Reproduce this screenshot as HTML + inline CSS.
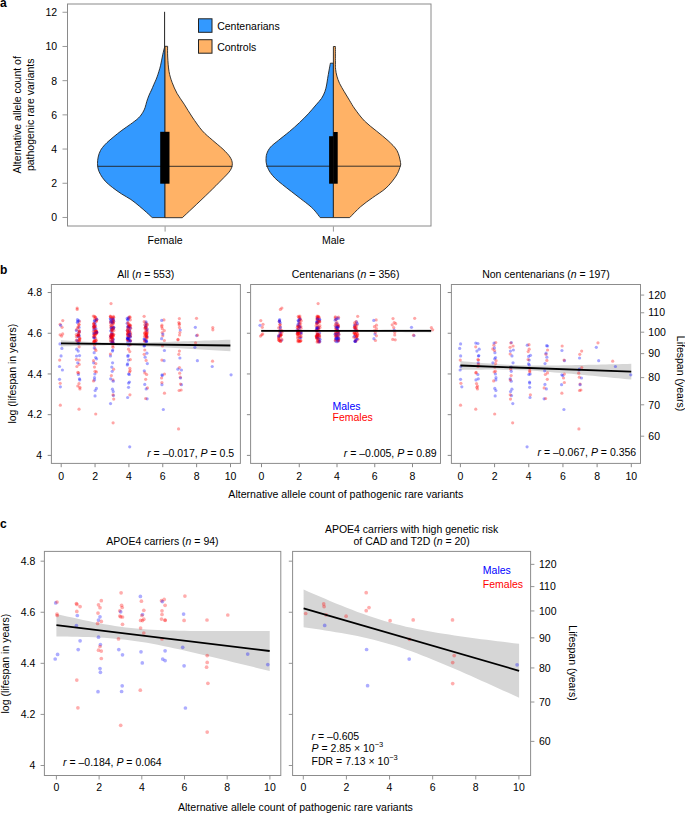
<!DOCTYPE html>
<html><head><meta charset="utf-8"><title>Figure</title>
<style>html,body{margin:0;padding:0;background:#fff;width:685px;height:813px;overflow:hidden}svg{display:block}text{font-family:"Liberation Sans", sans-serif}</style>
</head><body><svg width="685" height="813" viewBox="0 0 685 813" font-family='"Liberation Sans", sans-serif'><text x="0" y="6.9" font-size="12" font-weight="bold" >a</text>
<line x1="62.5" y1="217.46" x2="67.5" y2="217.46" stroke="#999999" stroke-width="1" />
<text x="57.1" y="221.46" font-size="10.5" text-anchor="end" >0</text>
<line x1="62.5" y1="183.26" x2="67.5" y2="183.26" stroke="#999999" stroke-width="1" />
<text x="57.1" y="187.26" font-size="10.5" text-anchor="end" >2</text>
<line x1="62.5" y1="149.06" x2="67.5" y2="149.06" stroke="#999999" stroke-width="1" />
<text x="57.1" y="153.06" font-size="10.5" text-anchor="end" >4</text>
<line x1="62.5" y1="114.86" x2="67.5" y2="114.86" stroke="#999999" stroke-width="1" />
<text x="57.1" y="118.86" font-size="10.5" text-anchor="end" >6</text>
<line x1="62.5" y1="80.66" x2="67.5" y2="80.66" stroke="#999999" stroke-width="1" />
<text x="57.1" y="84.66" font-size="10.5" text-anchor="end" >8</text>
<line x1="62.5" y1="46.46" x2="67.5" y2="46.46" stroke="#999999" stroke-width="1" />
<text x="57.1" y="50.46" font-size="10.5" text-anchor="end" >10</text>
<line x1="62.5" y1="12.26" x2="67.5" y2="12.26" stroke="#999999" stroke-width="1" />
<text x="57.1" y="16.26" font-size="10.5" text-anchor="end" >12</text>
<text x="21.1" y="114.8" font-size="10.5" text-anchor="middle" transform="rotate(-90 21.1 114.8)" >Alternative allele count of</text>
<text x="34.4" y="114.8" font-size="10.5" text-anchor="middle" transform="rotate(-90 34.4 114.8)" >pathogenic rare variants</text>
<line x1="165.1" y1="226.4" x2="165.1" y2="231.6" stroke="#999999" stroke-width="1" />
<text x="165.1" y="243.8" font-size="10.5" text-anchor="middle" >Female</text>
<line x1="333.4" y1="226.4" x2="333.4" y2="231.6" stroke="#999999" stroke-width="1" />
<text x="333.4" y="243.8" font-size="10.5" text-anchor="middle" >Male</text>
<line x1="164.6" y1="11.8" x2="164.6" y2="47" stroke="#222" stroke-width="1.0" />
<path d="M165,46.6 L164.7,46.6 C164.37,47.97 163.4,51.6 162.7,54.8 C162,58 161.43,62.12 160.5,65.8 C159.57,69.48 158.22,73.77 157.1,76.9 C155.98,80.03 154.73,82.42 153.8,84.6 C152.87,86.78 152.3,88.22 151.5,90 C150.7,91.78 149.78,93.4 149,95.3 C148.22,97.2 147.45,99.37 146.8,101.4 C146.15,103.43 145.75,105.68 145.1,107.5 C144.45,109.32 144,110.55 142.9,112.3 C141.8,114.05 140.55,116.02 138.5,118 C136.45,119.98 133.37,122.15 130.6,124.2 C127.83,126.25 124.82,128.12 121.9,130.3 C118.98,132.48 115.87,134.97 113.1,137.3 C110.33,139.63 107.4,142.1 105.3,144.3 C103.2,146.5 101.68,148.38 100.5,150.5 C99.32,152.62 98.7,154.83 98.2,157 C97.7,159.17 97.5,161.5 97.5,163.5 C97.5,165.5 97.7,167.17 98.2,169 C98.7,170.83 99.35,172.5 100.5,174.5 C101.65,176.5 103.1,178.83 105.1,181 C107.1,183.17 109.73,185.33 112.5,187.5 C115.27,189.67 118.63,192 121.7,194 C124.77,196 127.98,197.5 130.9,199.5 C133.82,201.5 136.58,203.85 139.2,206 C141.82,208.15 144.43,210.47 146.6,212.4 C148.77,214.33 151.27,216.73 152.2,217.6 L165,217.6 Z" fill="#3399ff" stroke="#222" stroke-width="0.9" stroke-linejoin="round"/>
<path d="M165,46.3 L167.6,46.3 C167.62,48.08 167.47,52.82 167.7,57 C167.93,61.18 168.27,67.17 169,71.4 C169.73,75.63 170.75,78.72 172.1,82.4 C173.45,86.08 175.08,89.87 177.1,93.5 C179.12,97.13 181.68,100.28 184.2,104.2 C186.72,108.12 189.18,112.57 192.2,117 C195.22,121.43 198.95,126.97 202.3,130.8 C205.65,134.63 208.85,136.93 212.3,140 C215.75,143.07 220.05,146.37 223,149.2 C225.95,152.03 228.45,154.57 230,157 C231.55,159.43 232.3,161.5 232.3,163.8 C232.3,166.1 231.8,168.1 230,170.8 C228.2,173.5 224.97,176.42 221.5,180 C218.03,183.58 213.95,187.68 209.2,192.3 C204.45,196.92 197.48,203.47 193,207.7 C188.52,211.93 184.08,216.03 182.3,217.7 L165,217.7 Z" fill="#ffb266" stroke="#222" stroke-width="0.9" stroke-linejoin="round"/>
<path d="M333.4,63.2 L330.4,63.2 C330.18,64.35 329.57,67.52 329.1,70.1 C328.63,72.68 328.02,76.22 327.6,78.7 C327.18,81.18 327.05,82.85 326.6,85 C326.15,87.15 325.73,89.38 324.9,91.6 C324.07,93.82 323.08,96.08 321.6,98.3 C320.12,100.52 318.22,102.32 316,104.9 C313.78,107.48 311.07,110.83 308.3,113.8 C305.53,116.77 302.53,119.75 299.4,122.7 C296.27,125.65 293,128.55 289.5,131.5 C286,134.45 281.55,137.82 278.4,140.4 C275.25,142.98 272.53,144.78 270.6,147 C268.67,149.22 267.57,151.53 266.8,153.7 C266.03,155.87 266.05,158.28 266,160 C265.95,161.72 266.23,162.75 266.5,164 C266.77,165.25 267,166.12 267.6,167.5 C268.2,168.88 268.83,170.48 270.1,172.3 C271.37,174.12 273.15,176.37 275.2,178.4 C277.25,180.43 279.67,182.28 282.4,184.5 C285.13,186.72 288.53,189.32 291.6,191.7 C294.67,194.08 297.73,196.42 300.8,198.8 C303.87,201.18 307.62,203.95 310,206 C312.38,208.05 313.4,209.17 315.1,211.1 C316.8,213.03 319.35,216.52 320.2,217.6 L333.4,217.6 Z" fill="#3399ff" stroke="#222" stroke-width="0.9" stroke-linejoin="round"/>
<path d="M333.4,46.5 L335.4,46.5 C335.4,49.08 335.37,58.2 335.4,62 C335.43,65.8 335.35,66.95 335.6,69.3 C335.85,71.65 336.25,73.77 336.9,76.1 C337.55,78.43 338.28,80.72 339.5,83.3 C340.72,85.88 342.55,88.78 344.2,91.6 C345.85,94.42 347.62,97.3 349.4,100.2 C351.18,103.1 352.38,105.53 354.9,109 C357.42,112.47 360.93,117.35 364.5,121 C368.07,124.65 372.37,127.62 376.3,130.9 C380.23,134.18 384.65,137.42 388.1,140.7 C391.55,143.98 394.93,146.98 397,150.6 C399.07,154.22 400.02,159.62 400.5,162.4 C400.98,165.18 400.65,165.02 399.9,167.3 C399.15,169.58 398.3,172.65 396,176.1 C393.7,179.55 390.03,184.38 386.1,188 C382.17,191.62 376.65,194.68 372.4,197.8 C368.15,200.92 364.38,203.4 360.6,206.7 C356.82,210 351.52,215.78 349.7,217.6 L333.4,217.6 Z" fill="#ffb266" stroke="#222" stroke-width="0.9" stroke-linejoin="round"/>
<line x1="97.4" y1="166.3" x2="232.3" y2="166.3" stroke="#222" stroke-width="0.9" />
<line x1="266.1" y1="166.2" x2="400.4" y2="166.2" stroke="#222" stroke-width="0.9" />
<rect x="160.2" y="131.8" width="9.3" height="51.9" fill="#000"/>
<rect x="329.1" y="136.2" width="4.3" height="47.5" fill="#000"/>
<rect x="333.4" y="132" width="4.3" height="51.7" fill="#000"/>
<rect x="198.5" y="18.8" width="13.5" height="13.5" fill="#3399ff" stroke="#222" stroke-width="1"/>
<rect x="198.5" y="39.7" width="13.5" height="13.5" fill="#ffb266" stroke="#222" stroke-width="1"/>
<text x="217.2" y="29.7" font-size="10.5" >Centenarians</text>
<text x="217.2" y="50.6" font-size="10.5" >Controls</text>
<rect x="67.5" y="4" width="363.5" height="222" fill="none" stroke="#8a8a8a" stroke-width="1.0"/>
<text x="0" y="274.1" font-size="12" font-weight="bold" >b</text>
<line x1="47.7" y1="455.4" x2="51.4" y2="455.4" stroke="#7a7a7a" stroke-width="0.9" />
<line x1="47.7" y1="414.68" x2="51.4" y2="414.68" stroke="#7a7a7a" stroke-width="0.9" />
<line x1="47.7" y1="373.96" x2="51.4" y2="373.96" stroke="#7a7a7a" stroke-width="0.9" />
<line x1="47.7" y1="333.24" x2="51.4" y2="333.24" stroke="#7a7a7a" stroke-width="0.9" />
<line x1="47.7" y1="292.52" x2="51.4" y2="292.52" stroke="#7a7a7a" stroke-width="0.9" />
<line x1="61.2" y1="463.4" x2="61.2" y2="467.2" stroke="#7a7a7a" stroke-width="0.9" />
<text x="61.2" y="479.8" font-size="10.5" text-anchor="middle" >0</text>
<line x1="95.06" y1="463.4" x2="95.06" y2="467.2" stroke="#7a7a7a" stroke-width="0.9" />
<text x="95.06" y="479.8" font-size="10.5" text-anchor="middle" >2</text>
<line x1="128.92" y1="463.4" x2="128.92" y2="467.2" stroke="#7a7a7a" stroke-width="0.9" />
<text x="128.92" y="479.8" font-size="10.5" text-anchor="middle" >4</text>
<line x1="162.78" y1="463.4" x2="162.78" y2="467.2" stroke="#7a7a7a" stroke-width="0.9" />
<text x="162.78" y="479.8" font-size="10.5" text-anchor="middle" >6</text>
<line x1="196.64" y1="463.4" x2="196.64" y2="467.2" stroke="#7a7a7a" stroke-width="0.9" />
<text x="196.64" y="479.8" font-size="10.5" text-anchor="middle" >8</text>
<line x1="230.5" y1="463.4" x2="230.5" y2="467.2" stroke="#7a7a7a" stroke-width="0.9" />
<text x="230.5" y="479.8" font-size="10.5" text-anchor="middle" >10</text>
<text x="145.8" y="278.4" font-size="10.5" text-anchor="middle" >All (<tspan font-style="italic">n</tspan> = 553)</text>
<line x1="246.9" y1="455.4" x2="250.6" y2="455.4" stroke="#7a7a7a" stroke-width="0.9" />
<line x1="246.9" y1="414.68" x2="250.6" y2="414.68" stroke="#7a7a7a" stroke-width="0.9" />
<line x1="246.9" y1="373.96" x2="250.6" y2="373.96" stroke="#7a7a7a" stroke-width="0.9" />
<line x1="246.9" y1="333.24" x2="250.6" y2="333.24" stroke="#7a7a7a" stroke-width="0.9" />
<line x1="246.9" y1="292.52" x2="250.6" y2="292.52" stroke="#7a7a7a" stroke-width="0.9" />
<line x1="261.5" y1="463.4" x2="261.5" y2="467.2" stroke="#7a7a7a" stroke-width="0.9" />
<text x="261.5" y="479.8" font-size="10.5" text-anchor="middle" >0</text>
<line x1="299.25" y1="463.4" x2="299.25" y2="467.2" stroke="#7a7a7a" stroke-width="0.9" />
<text x="299.25" y="479.8" font-size="10.5" text-anchor="middle" >2</text>
<line x1="337" y1="463.4" x2="337" y2="467.2" stroke="#7a7a7a" stroke-width="0.9" />
<text x="337" y="479.8" font-size="10.5" text-anchor="middle" >4</text>
<line x1="374.75" y1="463.4" x2="374.75" y2="467.2" stroke="#7a7a7a" stroke-width="0.9" />
<text x="374.75" y="479.8" font-size="10.5" text-anchor="middle" >6</text>
<line x1="412.5" y1="463.4" x2="412.5" y2="467.2" stroke="#7a7a7a" stroke-width="0.9" />
<text x="412.5" y="479.8" font-size="10.5" text-anchor="middle" >8</text>
<text x="345.6" y="278.4" font-size="10.5" text-anchor="middle" >Centenarians (<tspan font-style="italic">n</tspan> = 356)</text>
<line x1="447.7" y1="455.4" x2="451.4" y2="455.4" stroke="#7a7a7a" stroke-width="0.9" />
<line x1="447.7" y1="414.68" x2="451.4" y2="414.68" stroke="#7a7a7a" stroke-width="0.9" />
<line x1="447.7" y1="373.96" x2="451.4" y2="373.96" stroke="#7a7a7a" stroke-width="0.9" />
<line x1="447.7" y1="333.24" x2="451.4" y2="333.24" stroke="#7a7a7a" stroke-width="0.9" />
<line x1="447.7" y1="292.52" x2="451.4" y2="292.52" stroke="#7a7a7a" stroke-width="0.9" />
<line x1="460.4" y1="463.4" x2="460.4" y2="467.2" stroke="#7a7a7a" stroke-width="0.9" />
<text x="460.4" y="479.8" font-size="10.5" text-anchor="middle" >0</text>
<line x1="494.58" y1="463.4" x2="494.58" y2="467.2" stroke="#7a7a7a" stroke-width="0.9" />
<text x="494.58" y="479.8" font-size="10.5" text-anchor="middle" >2</text>
<line x1="528.76" y1="463.4" x2="528.76" y2="467.2" stroke="#7a7a7a" stroke-width="0.9" />
<text x="528.76" y="479.8" font-size="10.5" text-anchor="middle" >4</text>
<line x1="562.94" y1="463.4" x2="562.94" y2="467.2" stroke="#7a7a7a" stroke-width="0.9" />
<text x="562.94" y="479.8" font-size="10.5" text-anchor="middle" >6</text>
<line x1="597.12" y1="463.4" x2="597.12" y2="467.2" stroke="#7a7a7a" stroke-width="0.9" />
<text x="597.12" y="479.8" font-size="10.5" text-anchor="middle" >8</text>
<line x1="631.3" y1="463.4" x2="631.3" y2="467.2" stroke="#7a7a7a" stroke-width="0.9" />
<text x="631.3" y="479.8" font-size="10.5" text-anchor="middle" >10</text>
<text x="545.9" y="278.4" font-size="10.5" text-anchor="middle" >Non centenarians (<tspan font-style="italic">n</tspan> = 197)</text>
<text x="42.1" y="459.2" font-size="10.5" text-anchor="end" >4</text>
<text x="42.1" y="418.48" font-size="10.5" text-anchor="end" >4.2</text>
<text x="42.1" y="377.76" font-size="10.5" text-anchor="end" >4.4</text>
<text x="42.1" y="337.04" font-size="10.5" text-anchor="end" >4.6</text>
<text x="42.1" y="296.32" font-size="10.5" text-anchor="end" >4.8</text>
<text x="16" y="373.7" font-size="10.5" text-anchor="middle" transform="rotate(-90 16 373.7)" >log (lifespan in years)</text>
<text x="345.8" y="498.3" font-size="10.6" text-anchor="middle" >Alternative allele count of pathogenic rare variants</text>
<line x1="640.4" y1="436.19" x2="644.2" y2="436.19" stroke="#7a7a7a" stroke-width="0.8" />
<text x="648.3" y="439.89" font-size="10.5" >60</text>
<line x1="640.4" y1="404.81" x2="644.2" y2="404.81" stroke="#7a7a7a" stroke-width="0.8" />
<text x="648.3" y="408.51" font-size="10.5" >70</text>
<line x1="640.4" y1="377.62" x2="644.2" y2="377.62" stroke="#7a7a7a" stroke-width="0.8" />
<text x="648.3" y="381.32" font-size="10.5" >80</text>
<line x1="640.4" y1="353.64" x2="644.2" y2="353.64" stroke="#7a7a7a" stroke-width="0.8" />
<text x="648.3" y="357.34" font-size="10.5" >90</text>
<line x1="640.4" y1="332.19" x2="644.2" y2="332.19" stroke="#7a7a7a" stroke-width="0.8" />
<text x="648.3" y="335.89" font-size="10.5" >100</text>
<line x1="640.4" y1="312.78" x2="644.2" y2="312.78" stroke="#7a7a7a" stroke-width="0.8" />
<text x="648.3" y="316.48" font-size="10.5" >110</text>
<line x1="640.4" y1="295.07" x2="644.2" y2="295.07" stroke="#7a7a7a" stroke-width="0.8" />
<text x="648.3" y="298.77" font-size="10.5" >120</text>
<text x="676.5" y="373.5" font-size="10.5" text-anchor="middle" transform="rotate(90 676.5 373.5)" >Lifespan (years)</text>
<path d="M61,340.3 L65.23,340.55 L69.47,340.79 L73.7,341.02 L77.94,341.25 L82.17,341.48 L86.41,341.7 L90.64,341.91 L94.88,342.11 L99.12,342.29 L103.35,342.45 L107.59,342.59 L111.82,342.7 L116.06,342.78 L120.29,342.82 L124.53,342.83 L128.76,342.81 L133,342.76 L137.23,342.7 L141.47,342.61 L145.7,342.51 L149.94,342.4 L154.17,342.28 L158.41,342.16 L162.64,342.03 L166.88,341.9 L171.11,341.76 L175.34,341.62 L179.58,341.48 L183.81,341.33 L188.05,341.19 L192.29,341.04 L196.52,340.89 L200.75,340.74 L204.99,340.59 L209.22,340.44 L213.46,340.29 L217.69,340.13 L221.93,339.98 L226.17,339.83 L230.4,339.67 L230.4,351.33 L226.17,351.07 L221.93,350.81 L217.69,350.55 L213.46,350.29 L209.22,350.04 L204.99,349.78 L200.75,349.52 L196.52,349.27 L192.29,349.02 L188.05,348.76 L183.81,348.51 L179.58,348.26 L175.34,348.02 L171.11,347.77 L166.88,347.53 L162.64,347.29 L158.41,347.06 L154.17,346.83 L149.94,346.6 L145.7,346.39 L141.47,346.18 L137.23,345.99 L133,345.82 L128.76,345.67 L124.53,345.54 L120.29,345.45 L116.06,345.39 L111.82,345.36 L107.59,345.37 L103.35,345.4 L99.12,345.46 L94.88,345.53 L90.64,345.63 L86.41,345.73 L82.17,345.84 L77.94,345.97 L73.7,346.09 L69.47,346.22 L65.23,346.36 L61,346.5 Z" fill="#d6d6d6"/>
<circle cx="112.2" cy="371.3" r="1.6" fill="rgba(0,0,255,0.35)"/>
<circle cx="127.48" cy="335.03" r="1.6" fill="rgba(255,0,0,0.35)"/>
<circle cx="113.1" cy="422.8" r="1.6" fill="rgba(255,0,0,0.35)"/>
<circle cx="130.64" cy="332.87" r="1.6" fill="rgba(255,0,0,0.35)"/>
<circle cx="93.8" cy="326.31" r="1.6" fill="rgba(255,0,0,0.35)"/>
<circle cx="112.45" cy="351.1" r="1.6" fill="rgba(0,0,255,0.35)"/>
<circle cx="77.77" cy="386" r="1.6" fill="rgba(255,0,0,0.35)"/>
<circle cx="96.78" cy="332.22" r="1.6" fill="rgba(0,0,255,0.35)"/>
<circle cx="130.49" cy="340.46" r="1.6" fill="rgba(255,0,0,0.35)"/>
<circle cx="129.37" cy="374.5" r="1.6" fill="rgba(0,0,255,0.35)"/>
<circle cx="212.21" cy="366.5" r="1.6" fill="rgba(0,0,255,0.35)"/>
<circle cx="95.22" cy="348.9" r="1.6" fill="rgba(255,0,0,0.35)"/>
<circle cx="195.58" cy="342.8" r="1.6" fill="rgba(255,0,0,0.35)"/>
<circle cx="96.06" cy="340.39" r="1.6" fill="rgba(255,0,0,0.35)"/>
<circle cx="60.33" cy="405.2" r="1.6" fill="rgba(255,0,0,0.35)"/>
<circle cx="112.37" cy="332.7" r="1.6" fill="rgba(255,0,0,0.35)"/>
<circle cx="129.78" cy="351.6" r="1.6" fill="rgba(255,0,0,0.35)"/>
<circle cx="113.44" cy="316.44" r="1.6" fill="rgba(255,0,0,0.35)"/>
<circle cx="96.4" cy="371.9" r="1.6" fill="rgba(255,0,0,0.35)"/>
<circle cx="130.2" cy="370.8" r="1.6" fill="rgba(255,0,0,0.35)"/>
<circle cx="79.13" cy="327.46" r="1.6" fill="rgba(0,0,255,0.35)"/>
<circle cx="78.23" cy="333.68" r="1.6" fill="rgba(0,0,255,0.35)"/>
<circle cx="162.24" cy="375.6" r="1.6" fill="rgba(0,0,255,0.35)"/>
<circle cx="129.67" cy="324.87" r="1.6" fill="rgba(255,0,0,0.35)"/>
<circle cx="128.71" cy="345.2" r="1.6" fill="rgba(0,0,255,0.35)"/>
<circle cx="147.15" cy="398.8" r="1.6" fill="rgba(0,0,255,0.35)"/>
<circle cx="127.89" cy="356.4" r="1.6" fill="rgba(0,0,255,0.35)"/>
<circle cx="130.4" cy="340.98" r="1.6" fill="rgba(255,0,0,0.35)"/>
<circle cx="130.36" cy="319.83" r="1.6" fill="rgba(255,0,0,0.35)"/>
<circle cx="111.59" cy="332.97" r="1.6" fill="rgba(0,0,255,0.35)"/>
<circle cx="94.02" cy="323.55" r="1.6" fill="rgba(255,0,0,0.35)"/>
<circle cx="113.03" cy="323.13" r="1.6" fill="rgba(255,0,0,0.35)"/>
<circle cx="93.36" cy="331.46" r="1.6" fill="rgba(255,0,0,0.35)"/>
<circle cx="180.29" cy="330" r="1.6" fill="rgba(0,0,255,0.35)"/>
<circle cx="76.39" cy="336.63" r="1.6" fill="rgba(255,0,0,0.35)"/>
<circle cx="96.16" cy="320.85" r="1.6" fill="rgba(255,0,0,0.35)"/>
<circle cx="147.34" cy="363.6" r="1.6" fill="rgba(0,0,255,0.35)"/>
<circle cx="146.48" cy="337.18" r="1.6" fill="rgba(255,0,0,0.35)"/>
<circle cx="162.24" cy="332.5" r="1.6" fill="rgba(255,0,0,0.35)"/>
<circle cx="127.94" cy="319.32" r="1.6" fill="rgba(0,0,255,0.35)"/>
<circle cx="94.61" cy="345.2" r="1.6" fill="rgba(255,0,0,0.35)"/>
<circle cx="96.53" cy="319.46" r="1.6" fill="rgba(0,0,255,0.35)"/>
<circle cx="128.47" cy="336.44" r="1.6" fill="rgba(255,0,0,0.35)"/>
<circle cx="95.63" cy="326.75" r="1.6" fill="rgba(255,0,0,0.35)"/>
<circle cx="79.43" cy="378.8" r="1.6" fill="rgba(0,0,255,0.35)"/>
<circle cx="178.02" cy="339.4" r="1.6" fill="rgba(255,0,0,0.35)"/>
<circle cx="144.12" cy="316.3" r="1.6" fill="rgba(255,0,0,0.35)"/>
<circle cx="78.88" cy="332.81" r="1.6" fill="rgba(255,0,0,0.35)"/>
<circle cx="77.2" cy="309.4" r="1.6" fill="rgba(255,0,0,0.35)"/>
<circle cx="94.54" cy="316.32" r="1.6" fill="rgba(255,0,0,0.35)"/>
<circle cx="111.36" cy="337.67" r="1.6" fill="rgba(255,0,0,0.35)"/>
<circle cx="179.44" cy="367.6" r="1.6" fill="rgba(255,0,0,0.35)"/>
<circle cx="94.26" cy="334.25" r="1.6" fill="rgba(255,0,0,0.35)"/>
<circle cx="147.22" cy="333.03" r="1.6" fill="rgba(255,0,0,0.35)"/>
<circle cx="95.05" cy="395.9" r="1.6" fill="rgba(0,0,255,0.35)"/>
<circle cx="113.72" cy="399.1" r="1.6" fill="rgba(255,0,0,0.35)"/>
<circle cx="79.18" cy="360" r="1.6" fill="rgba(255,0,0,0.35)"/>
<circle cx="196.56" cy="335.6" r="1.6" fill="rgba(0,0,255,0.35)"/>
<circle cx="79.69" cy="338.29" r="1.6" fill="rgba(255,0,0,0.35)"/>
<circle cx="112.96" cy="322.27" r="1.6" fill="rgba(255,0,0,0.35)"/>
<circle cx="79.77" cy="339.39" r="1.6" fill="rgba(255,0,0,0.35)"/>
<circle cx="110.68" cy="336.11" r="1.6" fill="rgba(255,0,0,0.35)"/>
<circle cx="111.27" cy="325.64" r="1.6" fill="rgba(255,0,0,0.35)"/>
<circle cx="127.44" cy="337.45" r="1.6" fill="rgba(0,0,255,0.35)"/>
<circle cx="76.34" cy="334.58" r="1.6" fill="rgba(255,0,0,0.35)"/>
<circle cx="96.4" cy="388.4" r="1.6" fill="rgba(0,0,255,0.35)"/>
<circle cx="94.16" cy="352.7" r="1.6" fill="rgba(0,0,255,0.35)"/>
<circle cx="94.41" cy="341.24" r="1.6" fill="rgba(255,0,0,0.35)"/>
<circle cx="112.39" cy="322.36" r="1.6" fill="rgba(0,0,255,0.35)"/>
<circle cx="79.77" cy="379.9" r="1.6" fill="rgba(0,0,255,0.35)"/>
<circle cx="94.02" cy="326.58" r="1.6" fill="rgba(0,0,255,0.35)"/>
<circle cx="110.38" cy="318.58" r="1.6" fill="rgba(0,0,255,0.35)"/>
<circle cx="113.01" cy="347.3" r="1.6" fill="rgba(255,0,0,0.35)"/>
<circle cx="113.25" cy="339.32" r="1.6" fill="rgba(0,0,255,0.35)"/>
<circle cx="62.05" cy="327.3" r="1.6" fill="rgba(255,0,0,0.35)"/>
<circle cx="144.22" cy="354.3" r="1.6" fill="rgba(255,0,0,0.35)"/>
<circle cx="146.84" cy="337.09" r="1.6" fill="rgba(255,0,0,0.35)"/>
<circle cx="145.63" cy="398.5" r="1.6" fill="rgba(255,0,0,0.35)"/>
<circle cx="94.83" cy="322.97" r="1.6" fill="rgba(0,0,255,0.35)"/>
<circle cx="110.69" cy="316.57" r="1.6" fill="rgba(255,0,0,0.35)"/>
<circle cx="62.77" cy="320.6" r="1.6" fill="rgba(255,0,0,0.35)"/>
<circle cx="95.73" cy="414" r="1.6" fill="rgba(255,0,0,0.35)"/>
<circle cx="113.09" cy="317.84" r="1.6" fill="rgba(255,0,0,0.35)"/>
<circle cx="127.67" cy="334.87" r="1.6" fill="rgba(255,0,0,0.35)"/>
<circle cx="130.41" cy="336.99" r="1.6" fill="rgba(0,0,255,0.35)"/>
<circle cx="127.6" cy="341.76" r="1.6" fill="rgba(0,0,255,0.35)"/>
<circle cx="128.21" cy="326.48" r="1.6" fill="rgba(255,0,0,0.35)"/>
<circle cx="128.93" cy="328.18" r="1.6" fill="rgba(0,0,255,0.35)"/>
<circle cx="111.46" cy="337.8" r="1.6" fill="rgba(0,0,255,0.35)"/>
<circle cx="146.75" cy="334.86" r="1.6" fill="rgba(255,0,0,0.35)"/>
<circle cx="94.93" cy="334.09" r="1.6" fill="rgba(255,0,0,0.35)"/>
<circle cx="94.69" cy="333.46" r="1.6" fill="rgba(255,0,0,0.35)"/>
<circle cx="179.4" cy="351.1" r="1.6" fill="rgba(255,0,0,0.35)"/>
<circle cx="112.5" cy="342.07" r="1.6" fill="rgba(255,0,0,0.35)"/>
<circle cx="112.59" cy="334.25" r="1.6" fill="rgba(255,0,0,0.35)"/>
<circle cx="128.55" cy="387.3" r="1.6" fill="rgba(0,0,255,0.35)"/>
<circle cx="179.12" cy="390.5" r="1.6" fill="rgba(255,0,0,0.35)"/>
<circle cx="113.41" cy="395.6" r="1.6" fill="rgba(0,0,255,0.35)"/>
<circle cx="146.16" cy="323.54" r="1.6" fill="rgba(0,0,255,0.35)"/>
<circle cx="144.77" cy="333.66" r="1.6" fill="rgba(255,0,0,0.35)"/>
<circle cx="61.66" cy="336.1" r="1.6" fill="rgba(255,0,0,0.35)"/>
<circle cx="177.97" cy="339.8" r="1.6" fill="rgba(255,0,0,0.35)"/>
<circle cx="144.54" cy="345.7" r="1.6" fill="rgba(0,0,255,0.35)"/>
<circle cx="95.4" cy="334.22" r="1.6" fill="rgba(255,0,0,0.35)"/>
<circle cx="146.12" cy="360.4" r="1.6" fill="rgba(255,0,0,0.35)"/>
<circle cx="61.91" cy="348.4" r="1.6" fill="rgba(0,0,255,0.35)"/>
<circle cx="112.81" cy="325.88" r="1.6" fill="rgba(255,0,0,0.35)"/>
<circle cx="127.29" cy="364.9" r="1.6" fill="rgba(0,0,255,0.35)"/>
<circle cx="181.13" cy="390" r="1.6" fill="rgba(255,0,0,0.35)"/>
<circle cx="144.28" cy="370.8" r="1.6" fill="rgba(0,0,255,0.35)"/>
<circle cx="110.59" cy="330.81" r="1.6" fill="rgba(0,0,255,0.35)"/>
<circle cx="164.43" cy="350.5" r="1.6" fill="rgba(0,0,255,0.35)"/>
<circle cx="113.68" cy="317.24" r="1.6" fill="rgba(255,0,0,0.35)"/>
<circle cx="145.94" cy="322.92" r="1.6" fill="rgba(255,0,0,0.35)"/>
<circle cx="127.13" cy="318.41" r="1.6" fill="rgba(0,0,255,0.35)"/>
<circle cx="144.86" cy="372.9" r="1.6" fill="rgba(255,0,0,0.35)"/>
<circle cx="95.21" cy="335.41" r="1.6" fill="rgba(255,0,0,0.35)"/>
<circle cx="146.33" cy="341.5" r="1.6" fill="rgba(0,0,255,0.35)"/>
<circle cx="95.22" cy="324.7" r="1.6" fill="rgba(0,0,255,0.35)"/>
<circle cx="181.49" cy="384.7" r="1.6" fill="rgba(0,0,255,0.35)"/>
<circle cx="78.24" cy="351.1" r="1.6" fill="rgba(0,0,255,0.35)"/>
<circle cx="130.14" cy="317.17" r="1.6" fill="rgba(255,0,0,0.35)"/>
<circle cx="96.71" cy="333.4" r="1.6" fill="rgba(255,0,0,0.35)"/>
<circle cx="110.47" cy="355.9" r="1.6" fill="rgba(0,0,255,0.35)"/>
<circle cx="164.47" cy="374" r="1.6" fill="rgba(255,0,0,0.35)"/>
<circle cx="79.4" cy="331.67" r="1.6" fill="rgba(0,0,255,0.35)"/>
<circle cx="96.76" cy="319.2" r="1.6" fill="rgba(0,0,255,0.35)"/>
<circle cx="111" cy="303.6" r="1.6" fill="rgba(255,0,0,0.35)"/>
<circle cx="110.45" cy="335.51" r="1.6" fill="rgba(255,0,0,0.35)"/>
<circle cx="197.37" cy="360.7" r="1.6" fill="rgba(0,0,255,0.35)"/>
<circle cx="194.89" cy="347.3" r="1.6" fill="rgba(0,0,255,0.35)"/>
<circle cx="94.23" cy="347.9" r="1.6" fill="rgba(0,0,255,0.35)"/>
<circle cx="113.67" cy="321.21" r="1.6" fill="rgba(0,0,255,0.35)"/>
<circle cx="110.9" cy="327.51" r="1.6" fill="rgba(255,0,0,0.35)"/>
<circle cx="76.5" cy="329.55" r="1.6" fill="rgba(255,0,0,0.35)"/>
<circle cx="96.1" cy="340.45" r="1.6" fill="rgba(255,0,0,0.35)"/>
<circle cx="113.62" cy="327.55" r="1.6" fill="rgba(0,0,255,0.35)"/>
<circle cx="128.08" cy="355.3" r="1.6" fill="rgba(0,0,255,0.35)"/>
<circle cx="111.36" cy="375.6" r="1.6" fill="rgba(255,0,0,0.35)"/>
<circle cx="127.27" cy="339.38" r="1.6" fill="rgba(255,0,0,0.35)"/>
<circle cx="145.68" cy="326.26" r="1.6" fill="rgba(255,0,0,0.35)"/>
<circle cx="94.28" cy="326.89" r="1.6" fill="rgba(0,0,255,0.35)"/>
<circle cx="128.31" cy="340.6" r="1.6" fill="rgba(255,0,0,0.35)"/>
<circle cx="162.46" cy="346" r="1.6" fill="rgba(255,0,0,0.35)"/>
<circle cx="79.91" cy="387.3" r="1.6" fill="rgba(255,0,0,0.35)"/>
<circle cx="112.87" cy="341.09" r="1.6" fill="rgba(255,0,0,0.35)"/>
<circle cx="60.37" cy="386.8" r="1.6" fill="rgba(0,0,255,0.35)"/>
<circle cx="77.85" cy="336" r="1.6" fill="rgba(255,0,0,0.35)"/>
<circle cx="78.27" cy="326.8" r="1.6" fill="rgba(255,0,0,0.35)"/>
<circle cx="111.57" cy="318.82" r="1.6" fill="rgba(255,0,0,0.35)"/>
<circle cx="110.73" cy="341.33" r="1.6" fill="rgba(255,0,0,0.35)"/>
<circle cx="112.93" cy="339.56" r="1.6" fill="rgba(0,0,255,0.35)"/>
<circle cx="130.29" cy="336.3" r="1.6" fill="rgba(255,0,0,0.35)"/>
<circle cx="113.08" cy="343" r="1.6" fill="rgba(255,0,0,0.35)"/>
<circle cx="147.28" cy="329" r="1.6" fill="rgba(0,0,255,0.35)"/>
<circle cx="95.55" cy="338.22" r="1.6" fill="rgba(255,0,0,0.35)"/>
<circle cx="144.91" cy="328.41" r="1.6" fill="rgba(255,0,0,0.35)"/>
<circle cx="162.78" cy="335.8" r="1.6" fill="rgba(255,0,0,0.35)"/>
<circle cx="113.75" cy="327.29" r="1.6" fill="rgba(0,0,255,0.35)"/>
<circle cx="146.55" cy="329.34" r="1.6" fill="rgba(255,0,0,0.35)"/>
<circle cx="112.82" cy="327.49" r="1.6" fill="rgba(255,0,0,0.35)"/>
<circle cx="96.83" cy="319.87" r="1.6" fill="rgba(255,0,0,0.35)"/>
<circle cx="147.02" cy="336.28" r="1.6" fill="rgba(0,0,255,0.35)"/>
<circle cx="112.58" cy="362.8" r="1.6" fill="rgba(0,0,255,0.35)"/>
<circle cx="144.36" cy="340.98" r="1.6" fill="rgba(255,0,0,0.35)"/>
<circle cx="112.42" cy="341.95" r="1.6" fill="rgba(0,0,255,0.35)"/>
<circle cx="59.52" cy="366.5" r="1.6" fill="rgba(0,0,255,0.35)"/>
<circle cx="112.77" cy="346" r="1.6" fill="rgba(255,0,0,0.35)"/>
<circle cx="179.37" cy="318.6" r="1.6" fill="rgba(255,0,0,0.35)"/>
<circle cx="112.2" cy="335.23" r="1.6" fill="rgba(255,0,0,0.35)"/>
<circle cx="78.8" cy="341.16" r="1.6" fill="rgba(255,0,0,0.35)"/>
<circle cx="94.85" cy="331.43" r="1.6" fill="rgba(255,0,0,0.35)"/>
<circle cx="129.52" cy="382" r="1.6" fill="rgba(0,0,255,0.35)"/>
<circle cx="179.55" cy="335" r="1.6" fill="rgba(255,0,0,0.35)"/>
<circle cx="112.27" cy="336.04" r="1.6" fill="rgba(255,0,0,0.35)"/>
<circle cx="111.89" cy="330.74" r="1.6" fill="rgba(255,0,0,0.35)"/>
<circle cx="112.52" cy="338.81" r="1.6" fill="rgba(255,0,0,0.35)"/>
<circle cx="145.74" cy="327.87" r="1.6" fill="rgba(0,0,255,0.35)"/>
<circle cx="94.49" cy="377.7" r="1.6" fill="rgba(0,0,255,0.35)"/>
<circle cx="146.02" cy="321.82" r="1.6" fill="rgba(0,0,255,0.35)"/>
<circle cx="111.56" cy="334.89" r="1.6" fill="rgba(255,0,0,0.35)"/>
<circle cx="163.95" cy="319.9" r="1.6" fill="rgba(255,0,0,0.35)"/>
<circle cx="146.9" cy="353.2" r="1.6" fill="rgba(0,0,255,0.35)"/>
<circle cx="79.46" cy="321.41" r="1.6" fill="rgba(255,0,0,0.35)"/>
<circle cx="111.47" cy="334.34" r="1.6" fill="rgba(255,0,0,0.35)"/>
<circle cx="110.42" cy="354" r="1.6" fill="rgba(255,0,0,0.35)"/>
<circle cx="113.7" cy="334.27" r="1.6" fill="rgba(255,0,0,0.35)"/>
<circle cx="161.94" cy="384.7" r="1.6" fill="rgba(0,0,255,0.35)"/>
<circle cx="95.63" cy="317.52" r="1.6" fill="rgba(255,0,0,0.35)"/>
<circle cx="79.3" cy="330.79" r="1.6" fill="rgba(255,0,0,0.35)"/>
<circle cx="127.38" cy="330.28" r="1.6" fill="rgba(0,0,255,0.35)"/>
<circle cx="129.99" cy="334.15" r="1.6" fill="rgba(0,0,255,0.35)"/>
<circle cx="129.51" cy="330.81" r="1.6" fill="rgba(255,0,0,0.35)"/>
<circle cx="96.59" cy="358.8" r="1.6" fill="rgba(0,0,255,0.35)"/>
<circle cx="146.81" cy="325.2" r="1.6" fill="rgba(255,0,0,0.35)"/>
<circle cx="161.92" cy="382.5" r="1.6" fill="rgba(255,0,0,0.35)"/>
<circle cx="113.22" cy="319.9" r="1.6" fill="rgba(0,0,255,0.35)"/>
<circle cx="147.14" cy="331.18" r="1.6" fill="rgba(255,0,0,0.35)"/>
<circle cx="128.37" cy="339.04" r="1.6" fill="rgba(255,0,0,0.35)"/>
<circle cx="112.31" cy="318.04" r="1.6" fill="rgba(255,0,0,0.35)"/>
<circle cx="146.1" cy="336.48" r="1.6" fill="rgba(255,0,0,0.35)"/>
<circle cx="113.79" cy="330.43" r="1.6" fill="rgba(255,0,0,0.35)"/>
<circle cx="93.5" cy="336.56" r="1.6" fill="rgba(255,0,0,0.35)"/>
<circle cx="79.06" cy="330.74" r="1.6" fill="rgba(255,0,0,0.35)"/>
<circle cx="145.36" cy="327.45" r="1.6" fill="rgba(255,0,0,0.35)"/>
<circle cx="127.86" cy="338.53" r="1.6" fill="rgba(0,0,255,0.35)"/>
<circle cx="127.73" cy="338.49" r="1.6" fill="rgba(0,0,255,0.35)"/>
<circle cx="94.58" cy="379.9" r="1.6" fill="rgba(0,0,255,0.35)"/>
<circle cx="146.48" cy="334.44" r="1.6" fill="rgba(255,0,0,0.35)"/>
<circle cx="93.81" cy="323.47" r="1.6" fill="rgba(255,0,0,0.35)"/>
<circle cx="180.29" cy="377.2" r="1.6" fill="rgba(255,0,0,0.35)"/>
<circle cx="93.9" cy="334.61" r="1.6" fill="rgba(255,0,0,0.35)"/>
<circle cx="147.46" cy="387.9" r="1.6" fill="rgba(255,0,0,0.35)"/>
<circle cx="96.34" cy="330.78" r="1.6" fill="rgba(255,0,0,0.35)"/>
<circle cx="163.33" cy="409.5" r="1.6" fill="rgba(0,0,255,0.35)"/>
<circle cx="113.47" cy="336.01" r="1.6" fill="rgba(255,0,0,0.35)"/>
<circle cx="128.28" cy="333.69" r="1.6" fill="rgba(0,0,255,0.35)"/>
<circle cx="94.56" cy="337.79" r="1.6" fill="rgba(0,0,255,0.35)"/>
<circle cx="113.3" cy="319.8" r="1.6" fill="rgba(255,0,0,0.35)"/>
<circle cx="128.66" cy="340.02" r="1.6" fill="rgba(0,0,255,0.35)"/>
<circle cx="128.6" cy="337.11" r="1.6" fill="rgba(255,0,0,0.35)"/>
<circle cx="112.72" cy="350" r="1.6" fill="rgba(0,0,255,0.35)"/>
<circle cx="77.68" cy="321.41" r="1.6" fill="rgba(0,0,255,0.35)"/>
<circle cx="162.29" cy="328.7" r="1.6" fill="rgba(255,0,0,0.35)"/>
<circle cx="112.58" cy="320.69" r="1.6" fill="rgba(255,0,0,0.35)"/>
<circle cx="112.07" cy="329.63" r="1.6" fill="rgba(0,0,255,0.35)"/>
<circle cx="212.86" cy="329.8" r="1.6" fill="rgba(255,0,0,0.35)"/>
<circle cx="129.5" cy="371.9" r="1.6" fill="rgba(255,0,0,0.35)"/>
<circle cx="77.32" cy="322.53" r="1.6" fill="rgba(0,0,255,0.35)"/>
<circle cx="111.24" cy="337.71" r="1.6" fill="rgba(255,0,0,0.35)"/>
<circle cx="145.66" cy="379.3" r="1.6" fill="rgba(255,0,0,0.35)"/>
<circle cx="93.66" cy="362.8" r="1.6" fill="rgba(0,0,255,0.35)"/>
<circle cx="129.4" cy="316.86" r="1.6" fill="rgba(255,0,0,0.35)"/>
<circle cx="95.89" cy="343" r="1.6" fill="rgba(0,0,255,0.35)"/>
<circle cx="110.82" cy="322.17" r="1.6" fill="rgba(0,0,255,0.35)"/>
<circle cx="128.98" cy="317.95" r="1.6" fill="rgba(255,0,0,0.35)"/>
<circle cx="127.14" cy="323.31" r="1.6" fill="rgba(0,0,255,0.35)"/>
<circle cx="127.59" cy="339.83" r="1.6" fill="rgba(255,0,0,0.35)"/>
<circle cx="95.02" cy="325.81" r="1.6" fill="rgba(255,0,0,0.35)"/>
<circle cx="129.5" cy="330.24" r="1.6" fill="rgba(0,0,255,0.35)"/>
<circle cx="112.43" cy="342.13" r="1.6" fill="rgba(255,0,0,0.35)"/>
<circle cx="78.21" cy="336.63" r="1.6" fill="rgba(0,0,255,0.35)"/>
<circle cx="113.08" cy="394.8" r="1.6" fill="rgba(255,0,0,0.35)"/>
<circle cx="178.82" cy="354.3" r="1.6" fill="rgba(255,0,0,0.35)"/>
<circle cx="179.91" cy="358" r="1.6" fill="rgba(0,0,255,0.35)"/>
<circle cx="177.91" cy="369.2" r="1.6" fill="rgba(0,0,255,0.35)"/>
<circle cx="161.91" cy="360.1" r="1.6" fill="rgba(255,0,0,0.35)"/>
<circle cx="146.18" cy="388.9" r="1.6" fill="rgba(0,0,255,0.35)"/>
<circle cx="111.29" cy="341.61" r="1.6" fill="rgba(0,0,255,0.35)"/>
<circle cx="112.15" cy="322.99" r="1.6" fill="rgba(0,0,255,0.35)"/>
<circle cx="79.63" cy="340.74" r="1.6" fill="rgba(255,0,0,0.35)"/>
<circle cx="178.83" cy="322.6" r="1.6" fill="rgba(255,0,0,0.35)"/>
<circle cx="161.94" cy="325.2" r="1.6" fill="rgba(255,0,0,0.35)"/>
<circle cx="128.7" cy="325.76" r="1.6" fill="rgba(255,0,0,0.35)"/>
<circle cx="112.08" cy="334.39" r="1.6" fill="rgba(0,0,255,0.35)"/>
<circle cx="179.69" cy="373.2" r="1.6" fill="rgba(255,0,0,0.35)"/>
<circle cx="127.44" cy="333.75" r="1.6" fill="rgba(255,0,0,0.35)"/>
<circle cx="127.58" cy="338.55" r="1.6" fill="rgba(0,0,255,0.35)"/>
<circle cx="130.57" cy="328.07" r="1.6" fill="rgba(0,0,255,0.35)"/>
<circle cx="94.31" cy="321.01" r="1.6" fill="rgba(0,0,255,0.35)"/>
<circle cx="113" cy="379.9" r="1.6" fill="rgba(255,0,0,0.35)"/>
<circle cx="164.29" cy="330.6" r="1.6" fill="rgba(255,0,0,0.35)"/>
<circle cx="146.63" cy="330.74" r="1.6" fill="rgba(0,0,255,0.35)"/>
<circle cx="128.47" cy="334.64" r="1.6" fill="rgba(0,0,255,0.35)"/>
<circle cx="110.34" cy="337.65" r="1.6" fill="rgba(255,0,0,0.35)"/>
<circle cx="79.04" cy="409.2" r="1.6" fill="rgba(255,0,0,0.35)"/>
<circle cx="164.47" cy="393.2" r="1.6" fill="rgba(255,0,0,0.35)"/>
<circle cx="111.74" cy="328.03" r="1.6" fill="rgba(0,0,255,0.35)"/>
<circle cx="112.38" cy="329.45" r="1.6" fill="rgba(255,0,0,0.35)"/>
<circle cx="94.18" cy="336.78" r="1.6" fill="rgba(255,0,0,0.35)"/>
<circle cx="94.12" cy="326.38" r="1.6" fill="rgba(255,0,0,0.35)"/>
<circle cx="96.32" cy="321.31" r="1.6" fill="rgba(255,0,0,0.35)"/>
<circle cx="93.73" cy="342.5" r="1.6" fill="rgba(255,0,0,0.35)"/>
<circle cx="78.56" cy="334.75" r="1.6" fill="rgba(255,0,0,0.35)"/>
<circle cx="130.64" cy="328.21" r="1.6" fill="rgba(255,0,0,0.35)"/>
<circle cx="113.26" cy="391.6" r="1.6" fill="rgba(0,0,255,0.35)"/>
<circle cx="146.14" cy="334.18" r="1.6" fill="rgba(255,0,0,0.35)"/>
<circle cx="76.56" cy="356" r="1.6" fill="rgba(0,0,255,0.35)"/>
<circle cx="161.71" cy="326.7" r="1.6" fill="rgba(255,0,0,0.35)"/>
<circle cx="130.22" cy="341.01" r="1.6" fill="rgba(0,0,255,0.35)"/>
<circle cx="59.69" cy="360.1" r="1.6" fill="rgba(255,0,0,0.35)"/>
<circle cx="145.65" cy="330.49" r="1.6" fill="rgba(255,0,0,0.35)"/>
<circle cx="145.47" cy="341.2" r="1.6" fill="rgba(0,0,255,0.35)"/>
<circle cx="94.75" cy="328.16" r="1.6" fill="rgba(255,0,0,0.35)"/>
<circle cx="164.35" cy="340.5" r="1.6" fill="rgba(255,0,0,0.35)"/>
<circle cx="78.64" cy="372.9" r="1.6" fill="rgba(255,0,0,0.35)"/>
<circle cx="113.04" cy="319.03" r="1.6" fill="rgba(0,0,255,0.35)"/>
<circle cx="76.72" cy="349.2" r="1.6" fill="rgba(0,0,255,0.35)"/>
<circle cx="78.36" cy="374.5" r="1.6" fill="rgba(0,0,255,0.35)"/>
<circle cx="79.7" cy="337.89" r="1.6" fill="rgba(255,0,0,0.35)"/>
<circle cx="112.71" cy="338.85" r="1.6" fill="rgba(255,0,0,0.35)"/>
<circle cx="179.48" cy="327.6" r="1.6" fill="rgba(255,0,0,0.35)"/>
<circle cx="79.91" cy="388.9" r="1.6" fill="rgba(255,0,0,0.35)"/>
<circle cx="110.82" cy="336.29" r="1.6" fill="rgba(0,0,255,0.35)"/>
<circle cx="127.35" cy="330.57" r="1.6" fill="rgba(255,0,0,0.35)"/>
<circle cx="77.76" cy="372.4" r="1.6" fill="rgba(255,0,0,0.35)"/>
<circle cx="144.54" cy="332.87" r="1.6" fill="rgba(255,0,0,0.35)"/>
<circle cx="95.97" cy="332.74" r="1.6" fill="rgba(255,0,0,0.35)"/>
<circle cx="76.36" cy="330.6" r="1.6" fill="rgba(0,0,255,0.35)"/>
<circle cx="94.1" cy="328.66" r="1.6" fill="rgba(255,0,0,0.35)"/>
<circle cx="60.12" cy="334.8" r="1.6" fill="rgba(255,0,0,0.35)"/>
<circle cx="112.14" cy="337.48" r="1.6" fill="rgba(255,0,0,0.35)"/>
<circle cx="113.52" cy="321.43" r="1.6" fill="rgba(255,0,0,0.35)"/>
<circle cx="94.32" cy="336.63" r="1.6" fill="rgba(255,0,0,0.35)"/>
<circle cx="111.38" cy="333.98" r="1.6" fill="rgba(255,0,0,0.35)"/>
<circle cx="128.51" cy="349.2" r="1.6" fill="rgba(255,0,0,0.35)"/>
<circle cx="61.06" cy="355.9" r="1.6" fill="rgba(0,0,255,0.35)"/>
<circle cx="93.58" cy="360.7" r="1.6" fill="rgba(255,0,0,0.35)"/>
<circle cx="79.38" cy="335.71" r="1.6" fill="rgba(0,0,255,0.35)"/>
<circle cx="129.18" cy="332.29" r="1.6" fill="rgba(0,0,255,0.35)"/>
<circle cx="76.39" cy="340.13" r="1.6" fill="rgba(255,0,0,0.35)"/>
<circle cx="78.12" cy="335.23" r="1.6" fill="rgba(255,0,0,0.35)"/>
<circle cx="113.24" cy="381.2" r="1.6" fill="rgba(0,0,255,0.35)"/>
<circle cx="60.18" cy="383.3" r="1.6" fill="rgba(255,0,0,0.35)"/>
<circle cx="94.9" cy="320.36" r="1.6" fill="rgba(0,0,255,0.35)"/>
<circle cx="147.02" cy="337.79" r="1.6" fill="rgba(255,0,0,0.35)"/>
<circle cx="161.7" cy="320.4" r="1.6" fill="rgba(0,0,255,0.35)"/>
<circle cx="179.12" cy="324.8" r="1.6" fill="rgba(255,0,0,0.35)"/>
<circle cx="113.3" cy="342.5" r="1.6" fill="rgba(0,0,255,0.35)"/>
<circle cx="179.89" cy="332.5" r="1.6" fill="rgba(255,0,0,0.35)"/>
<circle cx="95.95" cy="328.73" r="1.6" fill="rgba(0,0,255,0.35)"/>
<circle cx="113.23" cy="323.42" r="1.6" fill="rgba(255,0,0,0.35)"/>
<circle cx="195.34" cy="327.3" r="1.6" fill="rgba(0,0,255,0.35)"/>
<circle cx="145.52" cy="327.37" r="1.6" fill="rgba(255,0,0,0.35)"/>
<circle cx="110.37" cy="316.15" r="1.6" fill="rgba(255,0,0,0.35)"/>
<circle cx="112.45" cy="389.2" r="1.6" fill="rgba(0,0,255,0.35)"/>
<circle cx="77.48" cy="341.41" r="1.6" fill="rgba(255,0,0,0.35)"/>
<circle cx="127.8" cy="329.65" r="1.6" fill="rgba(255,0,0,0.35)"/>
<circle cx="181.45" cy="370" r="1.6" fill="rgba(0,0,255,0.35)"/>
<circle cx="93.93" cy="329.61" r="1.6" fill="rgba(0,0,255,0.35)"/>
<circle cx="95.2" cy="317.02" r="1.6" fill="rgba(255,0,0,0.35)"/>
<circle cx="128.99" cy="336.03" r="1.6" fill="rgba(255,0,0,0.35)"/>
<circle cx="110.5" cy="322.95" r="1.6" fill="rgba(255,0,0,0.35)"/>
<circle cx="128.5" cy="383.1" r="1.6" fill="rgba(0,0,255,0.35)"/>
<circle cx="78.72" cy="335.3" r="1.6" fill="rgba(255,0,0,0.35)"/>
<circle cx="162.06" cy="374.8" r="1.6" fill="rgba(0,0,255,0.35)"/>
<circle cx="128.54" cy="374" r="1.6" fill="rgba(0,0,255,0.35)"/>
<circle cx="130.31" cy="359.6" r="1.6" fill="rgba(255,0,0,0.35)"/>
<circle cx="129.57" cy="331.28" r="1.6" fill="rgba(255,0,0,0.35)"/>
<circle cx="145.15" cy="335.02" r="1.6" fill="rgba(255,0,0,0.35)"/>
<circle cx="128.01" cy="322.72" r="1.6" fill="rgba(255,0,0,0.35)"/>
<circle cx="77.7" cy="327.76" r="1.6" fill="rgba(255,0,0,0.35)"/>
<circle cx="94.83" cy="374" r="1.6" fill="rgba(0,0,255,0.35)"/>
<circle cx="78.27" cy="335.04" r="1.6" fill="rgba(255,0,0,0.35)"/>
<circle cx="111.29" cy="327.88" r="1.6" fill="rgba(0,0,255,0.35)"/>
<circle cx="127.59" cy="363.9" r="1.6" fill="rgba(0,0,255,0.35)"/>
<circle cx="144.8" cy="350" r="1.6" fill="rgba(255,0,0,0.35)"/>
<circle cx="146.4" cy="327.15" r="1.6" fill="rgba(255,0,0,0.35)"/>
<circle cx="130.48" cy="334.31" r="1.6" fill="rgba(255,0,0,0.35)"/>
<circle cx="95.62" cy="357.5" r="1.6" fill="rgba(0,0,255,0.35)"/>
<circle cx="146.61" cy="341.51" r="1.6" fill="rgba(0,0,255,0.35)"/>
<circle cx="127.63" cy="397.5" r="1.6" fill="rgba(0,0,255,0.35)"/>
<circle cx="96.61" cy="331.92" r="1.6" fill="rgba(255,0,0,0.35)"/>
<circle cx="128.35" cy="317.9" r="1.6" fill="rgba(0,0,255,0.35)"/>
<circle cx="145.69" cy="339.24" r="1.6" fill="rgba(255,0,0,0.35)"/>
<circle cx="95.8" cy="363.6" r="1.6" fill="rgba(255,0,0,0.35)"/>
<circle cx="129.51" cy="326.81" r="1.6" fill="rgba(0,0,255,0.35)"/>
<circle cx="95.89" cy="331.19" r="1.6" fill="rgba(255,0,0,0.35)"/>
<circle cx="76.36" cy="359.6" r="1.6" fill="rgba(255,0,0,0.35)"/>
<circle cx="93.5" cy="380.9" r="1.6" fill="rgba(255,0,0,0.35)"/>
<circle cx="113.62" cy="369.2" r="1.6" fill="rgba(255,0,0,0.35)"/>
<circle cx="79.29" cy="332.27" r="1.6" fill="rgba(255,0,0,0.35)"/>
<circle cx="59.53" cy="379.3" r="1.6" fill="rgba(0,0,255,0.35)"/>
<circle cx="94.05" cy="326.2" r="1.6" fill="rgba(255,0,0,0.35)"/>
<circle cx="111.77" cy="367.1" r="1.6" fill="rgba(0,0,255,0.35)"/>
<circle cx="77.05" cy="340.26" r="1.6" fill="rgba(0,0,255,0.35)"/>
<circle cx="127.87" cy="326.38" r="1.6" fill="rgba(0,0,255,0.35)"/>
<circle cx="96.76" cy="331.98" r="1.6" fill="rgba(255,0,0,0.35)"/>
<circle cx="95.46" cy="331.2" r="1.6" fill="rgba(255,0,0,0.35)"/>
<circle cx="94.72" cy="318.63" r="1.6" fill="rgba(255,0,0,0.35)"/>
<circle cx="78.95" cy="324.32" r="1.6" fill="rgba(255,0,0,0.35)"/>
<circle cx="93.99" cy="341.68" r="1.6" fill="rgba(255,0,0,0.35)"/>
<circle cx="110.92" cy="325.54" r="1.6" fill="rgba(255,0,0,0.35)"/>
<circle cx="178.56" cy="428.9" r="1.6" fill="rgba(255,0,0,0.35)"/>
<circle cx="130.21" cy="344.7" r="1.6" fill="rgba(255,0,0,0.35)"/>
<circle cx="93.71" cy="337.75" r="1.6" fill="rgba(0,0,255,0.35)"/>
<circle cx="110.68" cy="378.8" r="1.6" fill="rgba(0,0,255,0.35)"/>
<circle cx="113.36" cy="328.45" r="1.6" fill="rgba(0,0,255,0.35)"/>
<circle cx="130.05" cy="335.73" r="1.6" fill="rgba(255,0,0,0.35)"/>
<circle cx="145.84" cy="332.49" r="1.6" fill="rgba(255,0,0,0.35)"/>
<circle cx="144.1" cy="339.02" r="1.6" fill="rgba(0,0,255,0.35)"/>
<circle cx="180.51" cy="378" r="1.6" fill="rgba(0,0,255,0.35)"/>
<circle cx="146.7" cy="333.08" r="1.6" fill="rgba(255,0,0,0.35)"/>
<circle cx="161.57" cy="378" r="1.6" fill="rgba(255,0,0,0.35)"/>
<circle cx="94.05" cy="340.9" r="1.6" fill="rgba(255,0,0,0.35)"/>
<circle cx="129.71" cy="446.8" r="1.6" fill="rgba(0,0,255,0.35)"/>
<circle cx="79.03" cy="383.6" r="1.6" fill="rgba(255,0,0,0.35)"/>
<circle cx="130.01" cy="336.23" r="1.6" fill="rgba(0,0,255,0.35)"/>
<circle cx="95.18" cy="390.5" r="1.6" fill="rgba(0,0,255,0.35)"/>
<circle cx="76.9" cy="366.5" r="1.6" fill="rgba(255,0,0,0.35)"/>
<circle cx="96.06" cy="333.14" r="1.6" fill="rgba(255,0,0,0.35)"/>
<circle cx="95.84" cy="331.18" r="1.6" fill="rgba(255,0,0,0.35)"/>
<circle cx="162.84" cy="334.1" r="1.6" fill="rgba(0,0,255,0.35)"/>
<circle cx="145.73" cy="325.41" r="1.6" fill="rgba(0,0,255,0.35)"/>
<circle cx="127.85" cy="333.5" r="1.6" fill="rgba(255,0,0,0.35)"/>
<circle cx="110.52" cy="316.98" r="1.6" fill="rgba(255,0,0,0.35)"/>
<circle cx="110.37" cy="339.86" r="1.6" fill="rgba(255,0,0,0.35)"/>
<circle cx="77.14" cy="308.1" r="1.6" fill="rgba(255,0,0,0.35)"/>
<circle cx="62.4" cy="370" r="1.6" fill="rgba(0,0,255,0.35)"/>
<circle cx="78.87" cy="343.1" r="1.6" fill="rgba(0,0,255,0.35)"/>
<circle cx="128.71" cy="326.74" r="1.6" fill="rgba(255,0,0,0.35)"/>
<circle cx="111.72" cy="330.43" r="1.6" fill="rgba(255,0,0,0.35)"/>
<circle cx="164.11" cy="360.7" r="1.6" fill="rgba(0,0,255,0.35)"/>
<circle cx="147.38" cy="324.25" r="1.6" fill="rgba(255,0,0,0.35)"/>
<circle cx="144.53" cy="336.52" r="1.6" fill="rgba(255,0,0,0.35)"/>
<circle cx="110.77" cy="321.25" r="1.6" fill="rgba(255,0,0,0.35)"/>
<circle cx="77.94" cy="343.5" r="1.6" fill="rgba(0,0,255,0.35)"/>
<circle cx="129.85" cy="368.4" r="1.6" fill="rgba(255,0,0,0.35)"/>
<circle cx="113.34" cy="335.06" r="1.6" fill="rgba(255,0,0,0.35)"/>
<circle cx="79.2" cy="364.4" r="1.6" fill="rgba(255,0,0,0.35)"/>
<circle cx="180.45" cy="384.1" r="1.6" fill="rgba(255,0,0,0.35)"/>
<circle cx="197.43" cy="335.2" r="1.6" fill="rgba(255,0,0,0.35)"/>
<circle cx="77.44" cy="319.7" r="1.6" fill="rgba(0,0,255,0.35)"/>
<circle cx="144.98" cy="340.93" r="1.6" fill="rgba(255,0,0,0.35)"/>
<circle cx="146.03" cy="335.72" r="1.6" fill="rgba(255,0,0,0.35)"/>
<circle cx="212.54" cy="361.2" r="1.6" fill="rgba(255,0,0,0.35)"/>
<circle cx="96.66" cy="332.47" r="1.6" fill="rgba(0,0,255,0.35)"/>
<circle cx="146.45" cy="340.67" r="1.6" fill="rgba(0,0,255,0.35)"/>
<circle cx="127.95" cy="327.16" r="1.6" fill="rgba(0,0,255,0.35)"/>
<circle cx="130.63" cy="325.87" r="1.6" fill="rgba(255,0,0,0.35)"/>
<circle cx="128.3" cy="338.4" r="1.6" fill="rgba(0,0,255,0.35)"/>
<circle cx="127.68" cy="320.19" r="1.6" fill="rgba(0,0,255,0.35)"/>
<circle cx="111.24" cy="321.29" r="1.6" fill="rgba(0,0,255,0.35)"/>
<circle cx="129.48" cy="334.05" r="1.6" fill="rgba(0,0,255,0.35)"/>
<circle cx="78.83" cy="320.63" r="1.6" fill="rgba(0,0,255,0.35)"/>
<circle cx="127.83" cy="328.35" r="1.6" fill="rgba(255,0,0,0.35)"/>
<circle cx="93.8" cy="333.3" r="1.6" fill="rgba(0,0,255,0.35)"/>
<circle cx="144.71" cy="324.83" r="1.6" fill="rgba(255,0,0,0.35)"/>
<circle cx="111.39" cy="336.42" r="1.6" fill="rgba(255,0,0,0.35)"/>
<circle cx="77.77" cy="362.8" r="1.6" fill="rgba(0,0,255,0.35)"/>
<circle cx="144.19" cy="321.66" r="1.6" fill="rgba(255,0,0,0.35)"/>
<circle cx="128.39" cy="360.1" r="1.6" fill="rgba(0,0,255,0.35)"/>
<circle cx="231.07" cy="374.8" r="1.6" fill="rgba(0,0,255,0.35)"/>
<circle cx="60.16" cy="324.3" r="1.6" fill="rgba(255,0,0,0.35)"/>
<circle cx="112.55" cy="336.69" r="1.6" fill="rgba(255,0,0,0.35)"/>
<circle cx="112.08" cy="340.98" r="1.6" fill="rgba(255,0,0,0.35)"/>
<circle cx="93.52" cy="327.55" r="1.6" fill="rgba(255,0,0,0.35)"/>
<circle cx="95.02" cy="371.3" r="1.6" fill="rgba(255,0,0,0.35)"/>
<circle cx="93.32" cy="316.12" r="1.6" fill="rgba(255,0,0,0.35)"/>
<circle cx="129.93" cy="394.8" r="1.6" fill="rgba(255,0,0,0.35)"/>
<circle cx="79.53" cy="355.6" r="1.6" fill="rgba(0,0,255,0.35)"/>
<circle cx="62.69" cy="333.9" r="1.6" fill="rgba(255,0,0,0.35)"/>
<circle cx="127.84" cy="331.32" r="1.6" fill="rgba(255,0,0,0.35)"/>
<circle cx="212.78" cy="327.6" r="1.6" fill="rgba(255,0,0,0.35)"/>
<circle cx="111.28" cy="336.2" r="1.6" fill="rgba(255,0,0,0.35)"/>
<circle cx="129.22" cy="325.53" r="1.6" fill="rgba(255,0,0,0.35)"/>
<circle cx="95.98" cy="350.5" r="1.6" fill="rgba(255,0,0,0.35)"/>
<circle cx="127.84" cy="331.99" r="1.6" fill="rgba(255,0,0,0.35)"/>
<circle cx="196.53" cy="318.3" r="1.6" fill="rgba(255,0,0,0.35)"/>
<circle cx="79.09" cy="346.8" r="1.6" fill="rgba(255,0,0,0.35)"/>
<circle cx="79.08" cy="339.93" r="1.6" fill="rgba(255,0,0,0.35)"/>
<circle cx="113.45" cy="328.43" r="1.6" fill="rgba(255,0,0,0.35)"/>
<circle cx="95.34" cy="341.53" r="1.6" fill="rgba(255,0,0,0.35)"/>
<circle cx="128.2" cy="323.7" r="1.6" fill="rgba(255,0,0,0.35)"/>
<circle cx="129.21" cy="338.81" r="1.6" fill="rgba(0,0,255,0.35)"/>
<circle cx="110.55" cy="403.6" r="1.6" fill="rgba(0,0,255,0.35)"/>
<circle cx="144.05" cy="346" r="1.6" fill="rgba(0,0,255,0.35)"/>
<circle cx="144.75" cy="384.4" r="1.6" fill="rgba(0,0,255,0.35)"/>
<circle cx="144.6" cy="339.25" r="1.6" fill="rgba(0,0,255,0.35)"/>
<circle cx="145.13" cy="357.2" r="1.6" fill="rgba(0,0,255,0.35)"/>
<circle cx="161.6" cy="338.7" r="1.6" fill="rgba(0,0,255,0.35)"/>
<circle cx="60.66" cy="325.3" r="1.6" fill="rgba(0,0,255,0.35)"/>
<circle cx="111.92" cy="329.39" r="1.6" fill="rgba(255,0,0,0.35)"/>
<circle cx="94.45" cy="367.1" r="1.6" fill="rgba(255,0,0,0.35)"/>
<circle cx="94.57" cy="340.7" r="1.6" fill="rgba(255,0,0,0.35)"/>
<circle cx="93.65" cy="324.45" r="1.6" fill="rgba(255,0,0,0.35)"/>
<circle cx="130.12" cy="325.2" r="1.6" fill="rgba(255,0,0,0.35)"/>
<circle cx="130.03" cy="341.03" r="1.6" fill="rgba(0,0,255,0.35)"/>
<circle cx="146.66" cy="374.5" r="1.6" fill="rgba(255,0,0,0.35)"/>
<circle cx="179.55" cy="323.7" r="1.6" fill="rgba(255,0,0,0.35)"/>
<circle cx="79.02" cy="324.81" r="1.6" fill="rgba(255,0,0,0.35)"/>
<circle cx="110.6" cy="319.55" r="1.6" fill="rgba(0,0,255,0.35)"/>
<circle cx="59.98" cy="343.9" r="1.6" fill="rgba(0,0,255,0.35)"/>
<circle cx="128.54" cy="332.7" r="1.6" fill="rgba(255,0,0,0.35)"/>
<line x1="61" y1="343.4" x2="230.4" y2="345.5" stroke="#000" stroke-width="1.8" />
<path d="M261.2,329.6 L265.45,329.63 L269.7,329.66 L273.95,329.69 L278.2,329.71 L282.45,329.74 L286.7,329.76 L290.95,329.79 L295.2,329.81 L299.45,329.83 L303.7,329.85 L307.95,329.86 L312.2,329.88 L316.45,329.89 L320.7,329.9 L324.95,329.9 L329.2,329.89 L333.45,329.88 L337.7,329.87 L341.95,329.85 L346.2,329.84 L350.45,329.82 L354.7,329.8 L358.95,329.77 L363.2,329.75 L367.45,329.72 L371.7,329.7 L375.95,329.67 L380.2,329.64 L384.45,329.61 L388.7,329.58 L392.95,329.55 L397.2,329.52 L401.45,329.48 L405.7,329.45 L409.95,329.41 L414.2,329.38 L418.45,329.34 L422.7,329.3 L426.95,329.26 L431.2,329.22 L431.2,332.38 L426.95,332.34 L422.7,332.3 L418.45,332.26 L414.2,332.22 L409.95,332.19 L405.7,332.15 L401.45,332.12 L397.2,332.08 L392.95,332.05 L388.7,332.02 L384.45,331.99 L380.2,331.96 L375.95,331.93 L371.7,331.9 L367.45,331.88 L363.2,331.85 L358.95,331.83 L354.7,331.8 L350.45,331.78 L346.2,331.76 L341.95,331.75 L337.7,331.73 L333.45,331.72 L329.2,331.71 L324.95,331.7 L320.7,331.7 L316.45,331.71 L312.2,331.72 L307.95,331.74 L303.7,331.75 L299.45,331.77 L295.2,331.79 L290.95,331.81 L286.7,331.84 L282.45,331.86 L278.2,331.89 L273.95,331.91 L269.7,331.94 L265.45,331.97 L261.2,332 Z" fill="#d6d6d6"/>
<circle cx="297.73" cy="326.2" r="1.6" fill="rgba(255,0,0,0.35)"/>
<circle cx="374.95" cy="334.1" r="1.6" fill="rgba(0,0,255,0.35)"/>
<circle cx="299.72" cy="337.75" r="1.6" fill="rgba(0,0,255,0.35)"/>
<circle cx="392.73" cy="339.4" r="1.6" fill="rgba(255,0,0,0.35)"/>
<circle cx="316.65" cy="322.17" r="1.6" fill="rgba(0,0,255,0.35)"/>
<circle cx="278.95" cy="339.93" r="1.6" fill="rgba(255,0,0,0.35)"/>
<circle cx="316.88" cy="323.13" r="1.6" fill="rgba(255,0,0,0.35)"/>
<circle cx="336.27" cy="325.76" r="1.6" fill="rgba(255,0,0,0.35)"/>
<circle cx="318.77" cy="336.29" r="1.6" fill="rgba(0,0,255,0.35)"/>
<circle cx="298.19" cy="325.81" r="1.6" fill="rgba(255,0,0,0.35)"/>
<circle cx="300.46" cy="340.9" r="1.6" fill="rgba(255,0,0,0.35)"/>
<circle cx="338.35" cy="318.41" r="1.6" fill="rgba(0,0,255,0.35)"/>
<circle cx="300.44" cy="318.63" r="1.6" fill="rgba(255,0,0,0.35)"/>
<circle cx="299.3" cy="341.53" r="1.6" fill="rgba(255,0,0,0.35)"/>
<circle cx="299.89" cy="316.12" r="1.6" fill="rgba(255,0,0,0.35)"/>
<circle cx="300.53" cy="331.18" r="1.6" fill="rgba(255,0,0,0.35)"/>
<circle cx="316.91" cy="317.84" r="1.6" fill="rgba(255,0,0,0.35)"/>
<circle cx="301.12" cy="334.25" r="1.6" fill="rgba(255,0,0,0.35)"/>
<circle cx="338.31" cy="341.01" r="1.6" fill="rgba(0,0,255,0.35)"/>
<circle cx="356.94" cy="330.49" r="1.6" fill="rgba(255,0,0,0.35)"/>
<circle cx="335.14" cy="320.19" r="1.6" fill="rgba(0,0,255,0.35)"/>
<circle cx="337.94" cy="339.04" r="1.6" fill="rgba(255,0,0,0.35)"/>
<circle cx="319.65" cy="332.97" r="1.6" fill="rgba(0,0,255,0.35)"/>
<circle cx="356.49" cy="321.82" r="1.6" fill="rgba(0,0,255,0.35)"/>
<circle cx="281.5" cy="340.26" r="1.6" fill="rgba(0,0,255,0.35)"/>
<circle cx="260.5" cy="336.1" r="1.6" fill="rgba(255,0,0,0.35)"/>
<circle cx="319.48" cy="322.27" r="1.6" fill="rgba(255,0,0,0.35)"/>
<circle cx="338.75" cy="338.49" r="1.6" fill="rgba(0,0,255,0.35)"/>
<circle cx="356.91" cy="336.52" r="1.6" fill="rgba(255,0,0,0.35)"/>
<circle cx="298.19" cy="331.19" r="1.6" fill="rgba(255,0,0,0.35)"/>
<circle cx="335.61" cy="339.38" r="1.6" fill="rgba(255,0,0,0.35)"/>
<circle cx="338.73" cy="331.32" r="1.6" fill="rgba(255,0,0,0.35)"/>
<circle cx="335.66" cy="341.03" r="1.6" fill="rgba(0,0,255,0.35)"/>
<circle cx="335.2" cy="325.53" r="1.6" fill="rgba(255,0,0,0.35)"/>
<circle cx="316.71" cy="327.49" r="1.6" fill="rgba(255,0,0,0.35)"/>
<circle cx="354.04" cy="333.03" r="1.6" fill="rgba(255,0,0,0.35)"/>
<circle cx="354.55" cy="322.92" r="1.6" fill="rgba(255,0,0,0.35)"/>
<circle cx="319.69" cy="319.9" r="1.6" fill="rgba(0,0,255,0.35)"/>
<circle cx="318.08" cy="334.27" r="1.6" fill="rgba(255,0,0,0.35)"/>
<circle cx="338.55" cy="333.69" r="1.6" fill="rgba(0,0,255,0.35)"/>
<circle cx="355.43" cy="334.44" r="1.6" fill="rgba(255,0,0,0.35)"/>
<circle cx="280.64" cy="341.41" r="1.6" fill="rgba(255,0,0,0.35)"/>
<circle cx="318" cy="321.21" r="1.6" fill="rgba(0,0,255,0.35)"/>
<circle cx="299.84" cy="319.46" r="1.6" fill="rgba(0,0,255,0.35)"/>
<circle cx="298.75" cy="340.39" r="1.6" fill="rgba(255,0,0,0.35)"/>
<circle cx="299.53" cy="326.58" r="1.6" fill="rgba(0,0,255,0.35)"/>
<circle cx="317.55" cy="316.57" r="1.6" fill="rgba(255,0,0,0.35)"/>
<circle cx="262.3" cy="327.3" r="1.6" fill="rgba(255,0,0,0.35)"/>
<circle cx="278.78" cy="337.89" r="1.6" fill="rgba(255,0,0,0.35)"/>
<circle cx="432.68" cy="329.8" r="1.6" fill="rgba(255,0,0,0.35)"/>
<circle cx="297.88" cy="338.22" r="1.6" fill="rgba(255,0,0,0.35)"/>
<circle cx="337.05" cy="322.72" r="1.6" fill="rgba(255,0,0,0.35)"/>
<circle cx="299.37" cy="323.47" r="1.6" fill="rgba(255,0,0,0.35)"/>
<circle cx="281.88" cy="308.1" r="1.6" fill="rgba(255,0,0,0.35)"/>
<circle cx="298.32" cy="316.32" r="1.6" fill="rgba(255,0,0,0.35)"/>
<circle cx="300.82" cy="326.38" r="1.6" fill="rgba(255,0,0,0.35)"/>
<circle cx="317.43" cy="319.03" r="1.6" fill="rgba(0,0,255,0.35)"/>
<circle cx="338.74" cy="339.83" r="1.6" fill="rgba(255,0,0,0.35)"/>
<circle cx="319.53" cy="337.48" r="1.6" fill="rgba(255,0,0,0.35)"/>
<circle cx="298.78" cy="317.52" r="1.6" fill="rgba(255,0,0,0.35)"/>
<circle cx="297.84" cy="331.2" r="1.6" fill="rgba(255,0,0,0.35)"/>
<circle cx="298.44" cy="326.31" r="1.6" fill="rgba(255,0,0,0.35)"/>
<circle cx="317.19" cy="321.29" r="1.6" fill="rgba(0,0,255,0.35)"/>
<circle cx="337.09" cy="317.9" r="1.6" fill="rgba(0,0,255,0.35)"/>
<circle cx="281.49" cy="334.58" r="1.6" fill="rgba(255,0,0,0.35)"/>
<circle cx="280.38" cy="309.4" r="1.6" fill="rgba(255,0,0,0.35)"/>
<circle cx="318.7" cy="320.69" r="1.6" fill="rgba(255,0,0,0.35)"/>
<circle cx="297.44" cy="330.78" r="1.6" fill="rgba(255,0,0,0.35)"/>
<circle cx="338.37" cy="340.46" r="1.6" fill="rgba(255,0,0,0.35)"/>
<circle cx="318.67" cy="329.45" r="1.6" fill="rgba(255,0,0,0.35)"/>
<circle cx="337.83" cy="336.99" r="1.6" fill="rgba(0,0,255,0.35)"/>
<circle cx="431.38" cy="327.6" r="1.6" fill="rgba(255,0,0,0.35)"/>
<circle cx="298.03" cy="331.43" r="1.6" fill="rgba(255,0,0,0.35)"/>
<circle cx="319.99" cy="339.32" r="1.6" fill="rgba(0,0,255,0.35)"/>
<circle cx="414" cy="335.6" r="1.6" fill="rgba(0,0,255,0.35)"/>
<circle cx="335.62" cy="338.53" r="1.6" fill="rgba(0,0,255,0.35)"/>
<circle cx="319.74" cy="336.11" r="1.6" fill="rgba(255,0,0,0.35)"/>
<circle cx="317.3" cy="318.82" r="1.6" fill="rgba(255,0,0,0.35)"/>
<circle cx="316.49" cy="337.65" r="1.6" fill="rgba(255,0,0,0.35)"/>
<circle cx="354.63" cy="332.87" r="1.6" fill="rgba(255,0,0,0.35)"/>
<circle cx="338.58" cy="337.11" r="1.6" fill="rgba(255,0,0,0.35)"/>
<circle cx="355.85" cy="330.74" r="1.6" fill="rgba(0,0,255,0.35)"/>
<circle cx="394.73" cy="332.5" r="1.6" fill="rgba(255,0,0,0.35)"/>
<circle cx="337.01" cy="335.73" r="1.6" fill="rgba(255,0,0,0.35)"/>
<circle cx="335.2" cy="340.6" r="1.6" fill="rgba(255,0,0,0.35)"/>
<circle cx="278.98" cy="336.63" r="1.6" fill="rgba(0,0,255,0.35)"/>
<circle cx="279.11" cy="330.74" r="1.6" fill="rgba(255,0,0,0.35)"/>
<circle cx="355.28" cy="327.87" r="1.6" fill="rgba(0,0,255,0.35)"/>
<circle cx="299.15" cy="321.31" r="1.6" fill="rgba(255,0,0,0.35)"/>
<circle cx="355.18" cy="329" r="1.6" fill="rgba(0,0,255,0.35)"/>
<circle cx="336.45" cy="338.4" r="1.6" fill="rgba(0,0,255,0.35)"/>
<circle cx="355.06" cy="328.41" r="1.6" fill="rgba(255,0,0,0.35)"/>
<circle cx="337.74" cy="340.02" r="1.6" fill="rgba(0,0,255,0.35)"/>
<circle cx="337.71" cy="332.7" r="1.6" fill="rgba(255,0,0,0.35)"/>
<circle cx="394.23" cy="322.6" r="1.6" fill="rgba(255,0,0,0.35)"/>
<circle cx="300.95" cy="331.92" r="1.6" fill="rgba(255,0,0,0.35)"/>
<circle cx="297.29" cy="333.14" r="1.6" fill="rgba(255,0,0,0.35)"/>
<circle cx="355.06" cy="340.67" r="1.6" fill="rgba(0,0,255,0.35)"/>
<circle cx="297.7" cy="332.22" r="1.6" fill="rgba(0,0,255,0.35)"/>
<circle cx="356.09" cy="321.66" r="1.6" fill="rgba(255,0,0,0.35)"/>
<circle cx="261.8" cy="334.8" r="1.6" fill="rgba(255,0,0,0.35)"/>
<circle cx="297.47" cy="334.61" r="1.6" fill="rgba(255,0,0,0.35)"/>
<circle cx="356.12" cy="340.98" r="1.6" fill="rgba(255,0,0,0.35)"/>
<circle cx="301.02" cy="328.16" r="1.6" fill="rgba(255,0,0,0.35)"/>
<circle cx="335.67" cy="333.75" r="1.6" fill="rgba(255,0,0,0.35)"/>
<circle cx="413.5" cy="335.2" r="1.6" fill="rgba(255,0,0,0.35)"/>
<circle cx="337.89" cy="340.98" r="1.6" fill="rgba(255,0,0,0.35)"/>
<circle cx="278.67" cy="327.76" r="1.6" fill="rgba(255,0,0,0.35)"/>
<circle cx="336.51" cy="336.23" r="1.6" fill="rgba(0,0,255,0.35)"/>
<circle cx="355.28" cy="335.02" r="1.6" fill="rgba(255,0,0,0.35)"/>
<circle cx="338.48" cy="326.74" r="1.6" fill="rgba(255,0,0,0.35)"/>
<circle cx="338.15" cy="332.29" r="1.6" fill="rgba(0,0,255,0.35)"/>
<circle cx="317.97" cy="317.24" r="1.6" fill="rgba(255,0,0,0.35)"/>
<circle cx="316.18" cy="325.64" r="1.6" fill="rgba(255,0,0,0.35)"/>
<circle cx="376.45" cy="328.7" r="1.6" fill="rgba(255,0,0,0.35)"/>
<circle cx="356.7" cy="336.48" r="1.6" fill="rgba(255,0,0,0.35)"/>
<circle cx="316.13" cy="336.04" r="1.6" fill="rgba(255,0,0,0.35)"/>
<circle cx="319.18" cy="335.23" r="1.6" fill="rgba(255,0,0,0.35)"/>
<circle cx="301.18" cy="332.47" r="1.6" fill="rgba(0,0,255,0.35)"/>
<circle cx="318.46" cy="316.44" r="1.6" fill="rgba(255,0,0,0.35)"/>
<circle cx="299.6" cy="333.46" r="1.6" fill="rgba(255,0,0,0.35)"/>
<circle cx="355.53" cy="334.18" r="1.6" fill="rgba(255,0,0,0.35)"/>
<circle cx="280.04" cy="324.81" r="1.6" fill="rgba(255,0,0,0.35)"/>
<circle cx="335.64" cy="328.35" r="1.6" fill="rgba(255,0,0,0.35)"/>
<circle cx="336.14" cy="333.5" r="1.6" fill="rgba(255,0,0,0.35)"/>
<circle cx="278.95" cy="340.13" r="1.6" fill="rgba(255,0,0,0.35)"/>
<circle cx="353.88" cy="337.18" r="1.6" fill="rgba(255,0,0,0.35)"/>
<circle cx="337.39" cy="330.24" r="1.6" fill="rgba(0,0,255,0.35)"/>
<circle cx="336.93" cy="329.65" r="1.6" fill="rgba(255,0,0,0.35)"/>
<circle cx="317.38" cy="329.39" r="1.6" fill="rgba(255,0,0,0.35)"/>
<circle cx="356.92" cy="335.72" r="1.6" fill="rgba(255,0,0,0.35)"/>
<circle cx="336.84" cy="328.18" r="1.6" fill="rgba(0,0,255,0.35)"/>
<circle cx="298.98" cy="328.73" r="1.6" fill="rgba(0,0,255,0.35)"/>
<circle cx="414.7" cy="318.3" r="1.6" fill="rgba(255,0,0,0.35)"/>
<circle cx="262.7" cy="333.9" r="1.6" fill="rgba(255,0,0,0.35)"/>
<circle cx="357.1" cy="324.83" r="1.6" fill="rgba(255,0,0,0.35)"/>
<circle cx="317.03" cy="337.67" r="1.6" fill="rgba(255,0,0,0.35)"/>
<circle cx="260" cy="325.3" r="1.6" fill="rgba(0,0,255,0.35)"/>
<circle cx="337.49" cy="330.28" r="1.6" fill="rgba(0,0,255,0.35)"/>
<circle cx="298.24" cy="320.36" r="1.6" fill="rgba(0,0,255,0.35)"/>
<circle cx="335.58" cy="332.87" r="1.6" fill="rgba(255,0,0,0.35)"/>
<circle cx="279.98" cy="324.32" r="1.6" fill="rgba(255,0,0,0.35)"/>
<circle cx="337.57" cy="325.87" r="1.6" fill="rgba(255,0,0,0.35)"/>
<circle cx="297.9" cy="331.98" r="1.6" fill="rgba(255,0,0,0.35)"/>
<circle cx="299.22" cy="324.45" r="1.6" fill="rgba(255,0,0,0.35)"/>
<circle cx="338" cy="324.87" r="1.6" fill="rgba(255,0,0,0.35)"/>
<circle cx="357.86" cy="339.24" r="1.6" fill="rgba(255,0,0,0.35)"/>
<circle cx="300.79" cy="333.3" r="1.6" fill="rgba(0,0,255,0.35)"/>
<circle cx="316.91" cy="319.8" r="1.6" fill="rgba(255,0,0,0.35)"/>
<circle cx="316.55" cy="336.01" r="1.6" fill="rgba(255,0,0,0.35)"/>
<circle cx="316.56" cy="336.42" r="1.6" fill="rgba(255,0,0,0.35)"/>
<circle cx="355.13" cy="341.51" r="1.6" fill="rgba(0,0,255,0.35)"/>
<circle cx="317.66" cy="334.89" r="1.6" fill="rgba(255,0,0,0.35)"/>
<circle cx="337.19" cy="330.57" r="1.6" fill="rgba(255,0,0,0.35)"/>
<circle cx="316.39" cy="329.63" r="1.6" fill="rgba(0,0,255,0.35)"/>
<circle cx="317.74" cy="330.43" r="1.6" fill="rgba(255,0,0,0.35)"/>
<circle cx="335.39" cy="336.44" r="1.6" fill="rgba(255,0,0,0.35)"/>
<circle cx="355.38" cy="341.2" r="1.6" fill="rgba(0,0,255,0.35)"/>
<circle cx="280.6" cy="329.55" r="1.6" fill="rgba(255,0,0,0.35)"/>
<circle cx="319.25" cy="340.98" r="1.6" fill="rgba(255,0,0,0.35)"/>
<circle cx="411.5" cy="327.3" r="1.6" fill="rgba(0,0,255,0.35)"/>
<circle cx="319.24" cy="318.04" r="1.6" fill="rgba(255,0,0,0.35)"/>
<circle cx="317.37" cy="335.51" r="1.6" fill="rgba(255,0,0,0.35)"/>
<circle cx="318.91" cy="341.33" r="1.6" fill="rgba(255,0,0,0.35)"/>
<circle cx="355.49" cy="337.79" r="1.6" fill="rgba(255,0,0,0.35)"/>
<circle cx="337.05" cy="336.3" r="1.6" fill="rgba(255,0,0,0.35)"/>
<circle cx="318.99" cy="339.56" r="1.6" fill="rgba(0,0,255,0.35)"/>
<circle cx="297.26" cy="329.61" r="1.6" fill="rgba(0,0,255,0.35)"/>
<circle cx="336.52" cy="323.31" r="1.6" fill="rgba(0,0,255,0.35)"/>
<circle cx="355.33" cy="340.93" r="1.6" fill="rgba(255,0,0,0.35)"/>
<circle cx="338.78" cy="334.64" r="1.6" fill="rgba(0,0,255,0.35)"/>
<circle cx="335.02" cy="334.15" r="1.6" fill="rgba(0,0,255,0.35)"/>
<circle cx="375.45" cy="332.5" r="1.6" fill="rgba(255,0,0,0.35)"/>
<circle cx="336.02" cy="319.83" r="1.6" fill="rgba(255,0,0,0.35)"/>
<circle cx="280.42" cy="336.63" r="1.6" fill="rgba(255,0,0,0.35)"/>
<circle cx="278.61" cy="336" r="1.6" fill="rgba(255,0,0,0.35)"/>
<circle cx="317.53" cy="318.58" r="1.6" fill="rgba(0,0,255,0.35)"/>
<circle cx="318.66" cy="341.95" r="1.6" fill="rgba(0,0,255,0.35)"/>
<circle cx="299.68" cy="319.2" r="1.6" fill="rgba(0,0,255,0.35)"/>
<circle cx="279.63" cy="319.7" r="1.6" fill="rgba(0,0,255,0.35)"/>
<circle cx="354.6" cy="326.26" r="1.6" fill="rgba(255,0,0,0.35)"/>
<circle cx="299.97" cy="319.87" r="1.6" fill="rgba(255,0,0,0.35)"/>
<circle cx="355.42" cy="324.25" r="1.6" fill="rgba(255,0,0,0.35)"/>
<circle cx="394.23" cy="330" r="1.6" fill="rgba(0,0,255,0.35)"/>
<circle cx="335.2" cy="317.95" r="1.6" fill="rgba(255,0,0,0.35)"/>
<circle cx="300.02" cy="341.24" r="1.6" fill="rgba(255,0,0,0.35)"/>
<circle cx="374.45" cy="330.6" r="1.6" fill="rgba(255,0,0,0.35)"/>
<circle cx="317.12" cy="327.55" r="1.6" fill="rgba(0,0,255,0.35)"/>
<circle cx="319.7" cy="319.55" r="1.6" fill="rgba(0,0,255,0.35)"/>
<circle cx="373.95" cy="338.7" r="1.6" fill="rgba(0,0,255,0.35)"/>
<circle cx="318.15" cy="338.81" r="1.6" fill="rgba(255,0,0,0.35)"/>
<circle cx="317.89" cy="322.36" r="1.6" fill="rgba(0,0,255,0.35)"/>
<circle cx="316.86" cy="330.81" r="1.6" fill="rgba(0,0,255,0.35)"/>
<circle cx="335.32" cy="316.86" r="1.6" fill="rgba(255,0,0,0.35)"/>
<circle cx="319.84" cy="325.54" r="1.6" fill="rgba(255,0,0,0.35)"/>
<circle cx="317.16" cy="334.25" r="1.6" fill="rgba(255,0,0,0.35)"/>
<circle cx="297.51" cy="334.22" r="1.6" fill="rgba(255,0,0,0.35)"/>
<circle cx="376.45" cy="325.2" r="1.6" fill="rgba(255,0,0,0.35)"/>
<circle cx="336.99" cy="341.76" r="1.6" fill="rgba(0,0,255,0.35)"/>
<circle cx="260.8" cy="320.6" r="1.6" fill="rgba(255,0,0,0.35)"/>
<circle cx="354.53" cy="325.41" r="1.6" fill="rgba(0,0,255,0.35)"/>
<circle cx="336.46" cy="328.21" r="1.6" fill="rgba(255,0,0,0.35)"/>
<circle cx="297.27" cy="327.55" r="1.6" fill="rgba(255,0,0,0.35)"/>
<circle cx="318.94" cy="316.98" r="1.6" fill="rgba(255,0,0,0.35)"/>
<circle cx="335.55" cy="335.03" r="1.6" fill="rgba(255,0,0,0.35)"/>
<circle cx="279.83" cy="332.81" r="1.6" fill="rgba(255,0,0,0.35)"/>
<circle cx="280.49" cy="335.3" r="1.6" fill="rgba(255,0,0,0.35)"/>
<circle cx="279.27" cy="321.41" r="1.6" fill="rgba(255,0,0,0.35)"/>
<circle cx="338.12" cy="326.48" r="1.6" fill="rgba(255,0,0,0.35)"/>
<circle cx="297.78" cy="333.4" r="1.6" fill="rgba(255,0,0,0.35)"/>
<circle cx="317.51" cy="334.39" r="1.6" fill="rgba(0,0,255,0.35)"/>
<circle cx="280.19" cy="326.8" r="1.6" fill="rgba(255,0,0,0.35)"/>
<circle cx="280.27" cy="333.68" r="1.6" fill="rgba(0,0,255,0.35)"/>
<circle cx="317.15" cy="336.2" r="1.6" fill="rgba(255,0,0,0.35)"/>
<circle cx="298.24" cy="328.66" r="1.6" fill="rgba(255,0,0,0.35)"/>
<circle cx="357.18" cy="339.02" r="1.6" fill="rgba(0,0,255,0.35)"/>
<circle cx="279.86" cy="335.04" r="1.6" fill="rgba(255,0,0,0.35)"/>
<circle cx="357.53" cy="333.66" r="1.6" fill="rgba(255,0,0,0.35)"/>
<circle cx="338.48" cy="317.17" r="1.6" fill="rgba(255,0,0,0.35)"/>
<circle cx="393.73" cy="327.6" r="1.6" fill="rgba(255,0,0,0.35)"/>
<circle cx="376.15" cy="319.9" r="1.6" fill="rgba(255,0,0,0.35)"/>
<circle cx="338.09" cy="326.38" r="1.6" fill="rgba(0,0,255,0.35)"/>
<circle cx="336.55" cy="338.81" r="1.6" fill="rgba(0,0,255,0.35)"/>
<circle cx="298.9" cy="322.97" r="1.6" fill="rgba(0,0,255,0.35)"/>
<circle cx="300.62" cy="323.55" r="1.6" fill="rgba(255,0,0,0.35)"/>
<circle cx="356.43" cy="329.34" r="1.6" fill="rgba(255,0,0,0.35)"/>
<circle cx="356.87" cy="331.18" r="1.6" fill="rgba(255,0,0,0.35)"/>
<circle cx="317.4" cy="336.69" r="1.6" fill="rgba(255,0,0,0.35)"/>
<circle cx="297.84" cy="324.7" r="1.6" fill="rgba(0,0,255,0.35)"/>
<circle cx="318.17" cy="328.03" r="1.6" fill="rgba(0,0,255,0.35)"/>
<circle cx="316.7" cy="323.42" r="1.6" fill="rgba(255,0,0,0.35)"/>
<circle cx="355.1" cy="341.5" r="1.6" fill="rgba(0,0,255,0.35)"/>
<circle cx="337.38" cy="334.87" r="1.6" fill="rgba(255,0,0,0.35)"/>
<circle cx="298.41" cy="321.01" r="1.6" fill="rgba(0,0,255,0.35)"/>
<circle cx="317.62" cy="327.88" r="1.6" fill="rgba(0,0,255,0.35)"/>
<circle cx="335.5" cy="330.81" r="1.6" fill="rgba(255,0,0,0.35)"/>
<circle cx="319.31" cy="342.13" r="1.6" fill="rgba(255,0,0,0.35)"/>
<circle cx="316.97" cy="330.74" r="1.6" fill="rgba(255,0,0,0.35)"/>
<circle cx="317.1" cy="322.99" r="1.6" fill="rgba(0,0,255,0.35)"/>
<circle cx="280.16" cy="322.53" r="1.6" fill="rgba(0,0,255,0.35)"/>
<circle cx="374.45" cy="326.7" r="1.6" fill="rgba(255,0,0,0.35)"/>
<circle cx="394.73" cy="335" r="1.6" fill="rgba(255,0,0,0.35)"/>
<circle cx="355.69" cy="325.2" r="1.6" fill="rgba(255,0,0,0.35)"/>
<circle cx="317.7" cy="339.86" r="1.6" fill="rgba(255,0,0,0.35)"/>
<circle cx="357.68" cy="316.3" r="1.6" fill="rgba(255,0,0,0.35)"/>
<circle cx="356.53" cy="332.49" r="1.6" fill="rgba(255,0,0,0.35)"/>
<circle cx="317.48" cy="341.09" r="1.6" fill="rgba(255,0,0,0.35)"/>
<circle cx="337.12" cy="331.99" r="1.6" fill="rgba(255,0,0,0.35)"/>
<circle cx="319.85" cy="341.61" r="1.6" fill="rgba(0,0,255,0.35)"/>
<circle cx="319.14" cy="333.98" r="1.6" fill="rgba(255,0,0,0.35)"/>
<circle cx="357.43" cy="323.54" r="1.6" fill="rgba(0,0,255,0.35)"/>
<circle cx="317.63" cy="322.95" r="1.6" fill="rgba(255,0,0,0.35)"/>
<circle cx="317.03" cy="332.7" r="1.6" fill="rgba(255,0,0,0.35)"/>
<circle cx="319.62" cy="321.25" r="1.6" fill="rgba(255,0,0,0.35)"/>
<circle cx="280.06" cy="330.6" r="1.6" fill="rgba(0,0,255,0.35)"/>
<circle cx="300.78" cy="337.79" r="1.6" fill="rgba(0,0,255,0.35)"/>
<circle cx="300.93" cy="340.7" r="1.6" fill="rgba(255,0,0,0.35)"/>
<circle cx="279.51" cy="320.63" r="1.6" fill="rgba(0,0,255,0.35)"/>
<circle cx="280.72" cy="335.23" r="1.6" fill="rgba(255,0,0,0.35)"/>
<circle cx="317.64" cy="334.34" r="1.6" fill="rgba(255,0,0,0.35)"/>
<circle cx="280.87" cy="334.75" r="1.6" fill="rgba(255,0,0,0.35)"/>
<circle cx="317.1" cy="342.07" r="1.6" fill="rgba(255,0,0,0.35)"/>
<circle cx="335.73" cy="323.7" r="1.6" fill="rgba(255,0,0,0.35)"/>
<circle cx="376.45" cy="335.8" r="1.6" fill="rgba(255,0,0,0.35)"/>
<circle cx="316.94" cy="337.71" r="1.6" fill="rgba(255,0,0,0.35)"/>
<circle cx="354.39" cy="336.28" r="1.6" fill="rgba(0,0,255,0.35)"/>
<circle cx="299.35" cy="317.02" r="1.6" fill="rgba(255,0,0,0.35)"/>
<circle cx="278.7" cy="335.71" r="1.6" fill="rgba(0,0,255,0.35)"/>
<circle cx="301.06" cy="336.56" r="1.6" fill="rgba(255,0,0,0.35)"/>
<circle cx="299.03" cy="335.41" r="1.6" fill="rgba(255,0,0,0.35)"/>
<circle cx="335.87" cy="326.81" r="1.6" fill="rgba(0,0,255,0.35)"/>
<circle cx="395.23" cy="339.8" r="1.6" fill="rgba(255,0,0,0.35)"/>
<circle cx="356.31" cy="327.15" r="1.6" fill="rgba(255,0,0,0.35)"/>
<circle cx="373.75" cy="320.4" r="1.6" fill="rgba(0,0,255,0.35)"/>
<circle cx="356.51" cy="337.09" r="1.6" fill="rgba(255,0,0,0.35)"/>
<circle cx="336.22" cy="336.03" r="1.6" fill="rgba(255,0,0,0.35)"/>
<circle cx="338.46" cy="338.55" r="1.6" fill="rgba(0,0,255,0.35)"/>
<circle cx="337.47" cy="327.16" r="1.6" fill="rgba(0,0,255,0.35)"/>
<circle cx="354.4" cy="327.45" r="1.6" fill="rgba(255,0,0,0.35)"/>
<circle cx="280.41" cy="327.46" r="1.6" fill="rgba(0,0,255,0.35)"/>
<circle cx="298.62" cy="334.09" r="1.6" fill="rgba(255,0,0,0.35)"/>
<circle cx="318.35" cy="327.29" r="1.6" fill="rgba(0,0,255,0.35)"/>
<circle cx="318.46" cy="328.43" r="1.6" fill="rgba(255,0,0,0.35)"/>
<circle cx="299.83" cy="326.89" r="1.6" fill="rgba(0,0,255,0.35)"/>
<circle cx="319.29" cy="321.43" r="1.6" fill="rgba(255,0,0,0.35)"/>
<circle cx="301.22" cy="320.85" r="1.6" fill="rgba(255,0,0,0.35)"/>
<circle cx="338.48" cy="331.28" r="1.6" fill="rgba(255,0,0,0.35)"/>
<circle cx="392.23" cy="324.8" r="1.6" fill="rgba(255,0,0,0.35)"/>
<circle cx="355" cy="327.37" r="1.6" fill="rgba(255,0,0,0.35)"/>
<circle cx="356.43" cy="339.25" r="1.6" fill="rgba(0,0,255,0.35)"/>
<circle cx="299.22" cy="326.75" r="1.6" fill="rgba(255,0,0,0.35)"/>
<circle cx="336.03" cy="319.32" r="1.6" fill="rgba(0,0,255,0.35)"/>
<circle cx="319.99" cy="327.51" r="1.6" fill="rgba(255,0,0,0.35)"/>
<circle cx="280.48" cy="341.16" r="1.6" fill="rgba(255,0,0,0.35)"/>
<circle cx="336.54" cy="334.05" r="1.6" fill="rgba(0,0,255,0.35)"/>
<circle cx="337.83" cy="328.07" r="1.6" fill="rgba(0,0,255,0.35)"/>
<circle cx="317.37" cy="337.8" r="1.6" fill="rgba(0,0,255,0.35)"/>
<circle cx="336.91" cy="337.45" r="1.6" fill="rgba(0,0,255,0.35)"/>
<circle cx="298.01" cy="340.45" r="1.6" fill="rgba(255,0,0,0.35)"/>
<circle cx="281" cy="331.67" r="1.6" fill="rgba(0,0,255,0.35)"/>
<circle cx="298.89" cy="332.74" r="1.6" fill="rgba(255,0,0,0.35)"/>
<circle cx="279.28" cy="321.41" r="1.6" fill="rgba(0,0,255,0.35)"/>
<circle cx="281.97" cy="332.27" r="1.6" fill="rgba(255,0,0,0.35)"/>
<circle cx="298.01" cy="341.68" r="1.6" fill="rgba(255,0,0,0.35)"/>
<circle cx="297.69" cy="336.78" r="1.6" fill="rgba(255,0,0,0.35)"/>
<circle cx="316.13" cy="330.43" r="1.6" fill="rgba(255,0,0,0.35)"/>
<circle cx="338.29" cy="325.2" r="1.6" fill="rgba(255,0,0,0.35)"/>
<circle cx="263" cy="324.3" r="1.6" fill="rgba(255,0,0,0.35)"/>
<circle cx="317.36" cy="335.06" r="1.6" fill="rgba(255,0,0,0.35)"/>
<circle cx="279.31" cy="340.74" r="1.6" fill="rgba(255,0,0,0.35)"/>
<circle cx="300.15" cy="336.63" r="1.6" fill="rgba(255,0,0,0.35)"/>
<circle cx="316.74" cy="328.45" r="1.6" fill="rgba(0,0,255,0.35)"/>
<circle cx="298.68" cy="331.46" r="1.6" fill="rgba(255,0,0,0.35)"/>
<circle cx="317.13" cy="316.15" r="1.6" fill="rgba(255,0,0,0.35)"/>
<circle cx="281.88" cy="339.39" r="1.6" fill="rgba(255,0,0,0.35)"/>
<circle cx="316.95" cy="338.85" r="1.6" fill="rgba(255,0,0,0.35)"/>
<circle cx="357.76" cy="334.86" r="1.6" fill="rgba(255,0,0,0.35)"/>
<circle cx="318.12" cy="303.6" r="1.6" fill="rgba(255,0,0,0.35)"/>
<circle cx="281.88" cy="330.79" r="1.6" fill="rgba(255,0,0,0.35)"/>
<circle cx="317.87" cy="325.88" r="1.6" fill="rgba(255,0,0,0.35)"/>
<circle cx="278.64" cy="338.29" r="1.6" fill="rgba(255,0,0,0.35)"/>
<circle cx="354.14" cy="333.08" r="1.6" fill="rgba(255,0,0,0.35)"/>
<circle cx="338.92" cy="334.31" r="1.6" fill="rgba(255,0,0,0.35)"/>
<circle cx="395.73" cy="323.7" r="1.6" fill="rgba(255,0,0,0.35)"/>
<circle cx="375.45" cy="340.5" r="1.6" fill="rgba(255,0,0,0.35)"/>
<circle cx="393.02" cy="318.6" r="1.6" fill="rgba(255,0,0,0.35)"/>
<line x1="261.2" y1="330.8" x2="431.2" y2="330.8" stroke="#000" stroke-width="1.8" />
<path d="M460.4,361.07 L464.67,361.46 L468.94,361.84 L473.22,362.21 L477.49,362.57 L481.76,362.92 L486.03,363.26 L490.31,363.58 L494.58,363.89 L498.85,364.18 L503.12,364.44 L507.4,364.68 L511.67,364.89 L515.94,365.06 L520.21,365.21 L524.49,365.32 L528.76,365.41 L533.03,365.47 L537.3,365.5 L541.58,365.51 L545.85,365.5 L550.12,365.48 L554.39,365.44 L558.67,365.39 L562.94,365.33 L567.21,365.27 L571.49,365.19 L575.76,365.12 L580.03,365.03 L584.3,364.94 L588.57,364.85 L592.85,364.76 L597.12,364.66 L601.39,364.56 L605.66,364.46 L609.94,364.36 L614.21,364.25 L618.48,364.15 L622.75,364.04 L627.03,363.93 L631.3,363.82 L631.3,379.58 L627.03,379.16 L622.75,378.74 L618.48,378.32 L614.21,377.91 L609.94,377.49 L605.66,377.08 L601.39,376.67 L597.12,376.26 L592.85,375.85 L588.57,375.45 L584.3,375.05 L580.03,374.65 L575.76,374.25 L571.49,373.87 L567.21,373.48 L562.94,373.11 L558.67,372.74 L554.39,372.38 L550.12,372.03 L545.85,371.7 L541.58,371.38 L537.3,371.08 L533.03,370.8 L528.76,370.55 L524.49,370.33 L520.21,370.13 L515.94,369.97 L511.67,369.83 L507.4,369.73 L503.12,369.66 L498.85,369.61 L494.58,369.59 L490.31,369.59 L486.03,369.6 L481.76,369.63 L477.49,369.67 L473.22,369.72 L468.94,369.78 L464.67,369.85 L460.4,369.93 Z" fill="#d6d6d6"/>
<circle cx="512.65" cy="422.8" r="1.6" fill="rgba(255,0,0,0.35)"/>
<circle cx="477.87" cy="374.5" r="1.6" fill="rgba(0,0,255,0.35)"/>
<circle cx="477.52" cy="386" r="1.6" fill="rgba(255,0,0,0.35)"/>
<circle cx="477.88" cy="359.6" r="1.6" fill="rgba(255,0,0,0.35)"/>
<circle cx="547.3" cy="379.3" r="1.6" fill="rgba(255,0,0,0.35)"/>
<circle cx="579.34" cy="377.2" r="1.6" fill="rgba(255,0,0,0.35)"/>
<circle cx="579.53" cy="390.5" r="1.6" fill="rgba(255,0,0,0.35)"/>
<circle cx="460.65" cy="355.9" r="1.6" fill="rgba(0,0,255,0.35)"/>
<circle cx="495.98" cy="377.7" r="1.6" fill="rgba(0,0,255,0.35)"/>
<circle cx="475.97" cy="372.9" r="1.6" fill="rgba(255,0,0,0.35)"/>
<circle cx="475.77" cy="343.1" r="1.6" fill="rgba(0,0,255,0.35)"/>
<circle cx="580.09" cy="384.1" r="1.6" fill="rgba(255,0,0,0.35)"/>
<circle cx="561.58" cy="384.7" r="1.6" fill="rgba(0,0,255,0.35)"/>
<circle cx="530.39" cy="394.8" r="1.6" fill="rgba(255,0,0,0.35)"/>
<circle cx="510.66" cy="369.2" r="1.6" fill="rgba(255,0,0,0.35)"/>
<circle cx="460.25" cy="360.1" r="1.6" fill="rgba(255,0,0,0.35)"/>
<circle cx="478.44" cy="356" r="1.6" fill="rgba(0,0,255,0.35)"/>
<circle cx="511.48" cy="395.6" r="1.6" fill="rgba(0,0,255,0.35)"/>
<circle cx="477.5" cy="388.9" r="1.6" fill="rgba(255,0,0,0.35)"/>
<circle cx="547.57" cy="346" r="1.6" fill="rgba(0,0,255,0.35)"/>
<circle cx="511.99" cy="355.9" r="1.6" fill="rgba(0,0,255,0.35)"/>
<circle cx="494.92" cy="352.7" r="1.6" fill="rgba(0,0,255,0.35)"/>
<circle cx="492.9" cy="362.8" r="1.6" fill="rgba(0,0,255,0.35)"/>
<circle cx="460.54" cy="379.3" r="1.6" fill="rgba(0,0,255,0.35)"/>
<circle cx="528.64" cy="356.4" r="1.6" fill="rgba(0,0,255,0.35)"/>
<circle cx="494.52" cy="350.5" r="1.6" fill="rgba(255,0,0,0.35)"/>
<circle cx="476.75" cy="387.3" r="1.6" fill="rgba(255,0,0,0.35)"/>
<circle cx="564.51" cy="360.7" r="1.6" fill="rgba(0,0,255,0.35)"/>
<circle cx="530.43" cy="355.3" r="1.6" fill="rgba(0,0,255,0.35)"/>
<circle cx="545.96" cy="354.3" r="1.6" fill="rgba(255,0,0,0.35)"/>
<circle cx="476.52" cy="383.6" r="1.6" fill="rgba(255,0,0,0.35)"/>
<circle cx="460.6" cy="343.9" r="1.6" fill="rgba(0,0,255,0.35)"/>
<circle cx="495.73" cy="342.5" r="1.6" fill="rgba(255,0,0,0.35)"/>
<circle cx="562.15" cy="346" r="1.6" fill="rgba(255,0,0,0.35)"/>
<circle cx="513.38" cy="350" r="1.6" fill="rgba(0,0,255,0.35)"/>
<circle cx="460.68" cy="366.5" r="1.6" fill="rgba(0,0,255,0.35)"/>
<circle cx="529.53" cy="382" r="1.6" fill="rgba(0,0,255,0.35)"/>
<circle cx="561.94" cy="350.5" r="1.6" fill="rgba(0,0,255,0.35)"/>
<circle cx="510.49" cy="399.1" r="1.6" fill="rgba(255,0,0,0.35)"/>
<circle cx="478.61" cy="360" r="1.6" fill="rgba(255,0,0,0.35)"/>
<circle cx="545.02" cy="363.6" r="1.6" fill="rgba(0,0,255,0.35)"/>
<circle cx="511.22" cy="381.2" r="1.6" fill="rgba(0,0,255,0.35)"/>
<circle cx="547.49" cy="372.9" r="1.6" fill="rgba(255,0,0,0.35)"/>
<circle cx="596.31" cy="347.3" r="1.6" fill="rgba(0,0,255,0.35)"/>
<circle cx="510.19" cy="354" r="1.6" fill="rgba(255,0,0,0.35)"/>
<circle cx="476.09" cy="372.4" r="1.6" fill="rgba(255,0,0,0.35)"/>
<circle cx="511.28" cy="371.3" r="1.6" fill="rgba(0,0,255,0.35)"/>
<circle cx="581.67" cy="351.1" r="1.6" fill="rgba(255,0,0,0.35)"/>
<circle cx="511.34" cy="342.5" r="1.6" fill="rgba(0,0,255,0.35)"/>
<circle cx="495.18" cy="395.9" r="1.6" fill="rgba(0,0,255,0.35)"/>
<circle cx="513.04" cy="362.8" r="1.6" fill="rgba(0,0,255,0.35)"/>
<circle cx="510.07" cy="347.3" r="1.6" fill="rgba(255,0,0,0.35)"/>
<circle cx="579.57" cy="358" r="1.6" fill="rgba(0,0,255,0.35)"/>
<circle cx="494.69" cy="414" r="1.6" fill="rgba(255,0,0,0.35)"/>
<circle cx="563.51" cy="378" r="1.6" fill="rgba(255,0,0,0.35)"/>
<circle cx="544.96" cy="384.4" r="1.6" fill="rgba(0,0,255,0.35)"/>
<circle cx="460.91" cy="383.3" r="1.6" fill="rgba(255,0,0,0.35)"/>
<circle cx="494.85" cy="367.1" r="1.6" fill="rgba(255,0,0,0.35)"/>
<circle cx="579.78" cy="354.3" r="1.6" fill="rgba(255,0,0,0.35)"/>
<circle cx="581.72" cy="367.6" r="1.6" fill="rgba(255,0,0,0.35)"/>
<circle cx="530.13" cy="374" r="1.6" fill="rgba(0,0,255,0.35)"/>
<circle cx="477.91" cy="343.5" r="1.6" fill="rgba(0,0,255,0.35)"/>
<circle cx="561.83" cy="374.8" r="1.6" fill="rgba(0,0,255,0.35)"/>
<circle cx="477.91" cy="366.5" r="1.6" fill="rgba(255,0,0,0.35)"/>
<circle cx="510.27" cy="394.8" r="1.6" fill="rgba(255,0,0,0.35)"/>
<circle cx="544.65" cy="370.8" r="1.6" fill="rgba(0,0,255,0.35)"/>
<circle cx="529.69" cy="370.8" r="1.6" fill="rgba(255,0,0,0.35)"/>
<circle cx="612.69" cy="361.2" r="1.6" fill="rgba(255,0,0,0.35)"/>
<circle cx="461.83" cy="386.8" r="1.6" fill="rgba(0,0,255,0.35)"/>
<circle cx="475.75" cy="409.2" r="1.6" fill="rgba(255,0,0,0.35)"/>
<circle cx="546.85" cy="360.4" r="1.6" fill="rgba(255,0,0,0.35)"/>
<circle cx="529.8" cy="371.9" r="1.6" fill="rgba(255,0,0,0.35)"/>
<circle cx="495.46" cy="371.3" r="1.6" fill="rgba(255,0,0,0.35)"/>
<circle cx="495.56" cy="357.5" r="1.6" fill="rgba(0,0,255,0.35)"/>
<circle cx="510.59" cy="391.6" r="1.6" fill="rgba(0,0,255,0.35)"/>
<circle cx="529.68" cy="383.1" r="1.6" fill="rgba(0,0,255,0.35)"/>
<circle cx="529.98" cy="397.5" r="1.6" fill="rgba(0,0,255,0.35)"/>
<circle cx="459.67" cy="348.4" r="1.6" fill="rgba(0,0,255,0.35)"/>
<circle cx="546.88" cy="357.2" r="1.6" fill="rgba(0,0,255,0.35)"/>
<circle cx="544.13" cy="398.8" r="1.6" fill="rgba(0,0,255,0.35)"/>
<circle cx="580.89" cy="390" r="1.6" fill="rgba(255,0,0,0.35)"/>
<circle cx="529.17" cy="349.2" r="1.6" fill="rgba(255,0,0,0.35)"/>
<circle cx="492.84" cy="348.9" r="1.6" fill="rgba(255,0,0,0.35)"/>
<circle cx="511.14" cy="375.6" r="1.6" fill="rgba(255,0,0,0.35)"/>
<circle cx="528.46" cy="363.9" r="1.6" fill="rgba(0,0,255,0.35)"/>
<circle cx="615.42" cy="366.5" r="1.6" fill="rgba(0,0,255,0.35)"/>
<circle cx="546.36" cy="388.9" r="1.6" fill="rgba(0,0,255,0.35)"/>
<circle cx="529.65" cy="387.3" r="1.6" fill="rgba(0,0,255,0.35)"/>
<circle cx="460.54" cy="405.2" r="1.6" fill="rgba(255,0,0,0.35)"/>
<circle cx="546.06" cy="353.2" r="1.6" fill="rgba(0,0,255,0.35)"/>
<circle cx="529.22" cy="360.1" r="1.6" fill="rgba(0,0,255,0.35)"/>
<circle cx="511.91" cy="389.2" r="1.6" fill="rgba(0,0,255,0.35)"/>
<circle cx="528.1" cy="359.6" r="1.6" fill="rgba(255,0,0,0.35)"/>
<circle cx="545.33" cy="374.5" r="1.6" fill="rgba(255,0,0,0.35)"/>
<circle cx="510.25" cy="378.8" r="1.6" fill="rgba(0,0,255,0.35)"/>
<circle cx="597.98" cy="342.8" r="1.6" fill="rgba(255,0,0,0.35)"/>
<circle cx="478.18" cy="362.8" r="1.6" fill="rgba(0,0,255,0.35)"/>
<circle cx="460.12" cy="370" r="1.6" fill="rgba(0,0,255,0.35)"/>
<circle cx="544.16" cy="387.9" r="1.6" fill="rgba(255,0,0,0.35)"/>
<circle cx="546.62" cy="345.7" r="1.6" fill="rgba(0,0,255,0.35)"/>
<circle cx="478.47" cy="364.4" r="1.6" fill="rgba(255,0,0,0.35)"/>
<circle cx="528.19" cy="351.6" r="1.6" fill="rgba(255,0,0,0.35)"/>
<circle cx="495.87" cy="390.5" r="1.6" fill="rgba(0,0,255,0.35)"/>
<circle cx="511.18" cy="367.1" r="1.6" fill="rgba(0,0,255,0.35)"/>
<circle cx="513.05" cy="346" r="1.6" fill="rgba(255,0,0,0.35)"/>
<circle cx="562.89" cy="375.6" r="1.6" fill="rgba(0,0,255,0.35)"/>
<circle cx="475.99" cy="379.9" r="1.6" fill="rgba(0,0,255,0.35)"/>
<circle cx="476.91" cy="351.1" r="1.6" fill="rgba(0,0,255,0.35)"/>
<circle cx="493.93" cy="345.2" r="1.6" fill="rgba(255,0,0,0.35)"/>
<circle cx="564.37" cy="382.5" r="1.6" fill="rgba(255,0,0,0.35)"/>
<circle cx="547.56" cy="350" r="1.6" fill="rgba(255,0,0,0.35)"/>
<circle cx="495.84" cy="379.9" r="1.6" fill="rgba(0,0,255,0.35)"/>
<circle cx="494.68" cy="358.8" r="1.6" fill="rgba(0,0,255,0.35)"/>
<circle cx="493.68" cy="380.9" r="1.6" fill="rgba(255,0,0,0.35)"/>
<circle cx="494.18" cy="371.9" r="1.6" fill="rgba(255,0,0,0.35)"/>
<circle cx="494.05" cy="343" r="1.6" fill="rgba(0,0,255,0.35)"/>
<circle cx="529.32" cy="364.9" r="1.6" fill="rgba(0,0,255,0.35)"/>
<circle cx="598.7" cy="360.7" r="1.6" fill="rgba(0,0,255,0.35)"/>
<circle cx="578.93" cy="428.9" r="1.6" fill="rgba(255,0,0,0.35)"/>
<circle cx="510.87" cy="343" r="1.6" fill="rgba(255,0,0,0.35)"/>
<circle cx="564.07" cy="360.1" r="1.6" fill="rgba(255,0,0,0.35)"/>
<circle cx="580.1" cy="384.7" r="1.6" fill="rgba(0,0,255,0.35)"/>
<circle cx="563.93" cy="409.5" r="1.6" fill="rgba(0,0,255,0.35)"/>
<circle cx="478.3" cy="378.8" r="1.6" fill="rgba(0,0,255,0.35)"/>
<circle cx="510.45" cy="351.1" r="1.6" fill="rgba(0,0,255,0.35)"/>
<circle cx="564.37" cy="374" r="1.6" fill="rgba(255,0,0,0.35)"/>
<circle cx="545.62" cy="398.5" r="1.6" fill="rgba(255,0,0,0.35)"/>
<circle cx="578.73" cy="373.2" r="1.6" fill="rgba(255,0,0,0.35)"/>
<circle cx="510.27" cy="379.9" r="1.6" fill="rgba(255,0,0,0.35)"/>
<circle cx="495.4" cy="374" r="1.6" fill="rgba(0,0,255,0.35)"/>
<circle cx="528.87" cy="374.5" r="1.6" fill="rgba(0,0,255,0.35)"/>
<circle cx="527.06" cy="446.8" r="1.6" fill="rgba(0,0,255,0.35)"/>
<circle cx="512.8" cy="403.6" r="1.6" fill="rgba(0,0,255,0.35)"/>
<circle cx="479.19" cy="349.2" r="1.6" fill="rgba(0,0,255,0.35)"/>
<circle cx="527.27" cy="345.2" r="1.6" fill="rgba(0,0,255,0.35)"/>
<circle cx="495.59" cy="363.6" r="1.6" fill="rgba(255,0,0,0.35)"/>
<circle cx="578.96" cy="370" r="1.6" fill="rgba(0,0,255,0.35)"/>
<circle cx="529.02" cy="344.7" r="1.6" fill="rgba(255,0,0,0.35)"/>
<circle cx="496.07" cy="360.7" r="1.6" fill="rgba(255,0,0,0.35)"/>
<circle cx="478.78" cy="355.6" r="1.6" fill="rgba(0,0,255,0.35)"/>
<circle cx="579.45" cy="369.2" r="1.6" fill="rgba(0,0,255,0.35)"/>
<circle cx="494.79" cy="388.4" r="1.6" fill="rgba(0,0,255,0.35)"/>
<circle cx="494.44" cy="347.9" r="1.6" fill="rgba(0,0,255,0.35)"/>
<circle cx="529.73" cy="368.4" r="1.6" fill="rgba(255,0,0,0.35)"/>
<circle cx="581.48" cy="378" r="1.6" fill="rgba(0,0,255,0.35)"/>
<circle cx="475.72" cy="346.8" r="1.6" fill="rgba(255,0,0,0.35)"/>
<circle cx="561.88" cy="393.2" r="1.6" fill="rgba(255,0,0,0.35)"/>
<circle cx="630.78" cy="374.8" r="1.6" fill="rgba(0,0,255,0.35)"/>
<line x1="460.4" y1="365.5" x2="631.3" y2="371.7" stroke="#000" stroke-width="1.8" />
<text x="234.2" y="457.1" font-size="10.5" text-anchor="end" ><tspan font-style="italic">r</tspan> = –0.017, <tspan font-style="italic">P</tspan> = 0.5</text>
<text x="436.6" y="456.6" font-size="10.5" text-anchor="end" ><tspan font-style="italic">r</tspan> = –0.005, <tspan font-style="italic">P</tspan> = 0.89</text>
<text x="636.2" y="455.8" font-size="10.5" text-anchor="end" ><tspan font-style="italic">r</tspan> = –0.067, <tspan font-style="italic">P</tspan> = 0.356</text>
<text x="332.5" y="409.6" font-size="10.5" fill="#0000ff" >Males</text>
<text x="332.5" y="421.1" font-size="10.5" fill="#ff0000" >Females</text>
<rect x="51.4" y="284.5" width="189" height="178.9" fill="none" stroke="#8c8c8c" stroke-width="1"/>
<rect x="250.6" y="284.5" width="189.9" height="178.9" fill="none" stroke="#8c8c8c" stroke-width="1"/>
<rect x="451.4" y="284.5" width="189.1" height="178.9" fill="none" stroke="#8c8c8c" stroke-width="1"/>
<text x="0" y="527.8" font-size="12" font-weight="bold" >c</text>
<line x1="40.6" y1="765.5" x2="44.4" y2="765.5" stroke="#7a7a7a" stroke-width="0.8" />
<line x1="40.6" y1="714.42" x2="44.4" y2="714.42" stroke="#7a7a7a" stroke-width="0.8" />
<line x1="40.6" y1="663.34" x2="44.4" y2="663.34" stroke="#7a7a7a" stroke-width="0.8" />
<line x1="40.6" y1="612.26" x2="44.4" y2="612.26" stroke="#7a7a7a" stroke-width="0.8" />
<line x1="40.6" y1="561.18" x2="44.4" y2="561.18" stroke="#7a7a7a" stroke-width="0.8" />
<line x1="288.8" y1="765.5" x2="292.6" y2="765.5" stroke="#7a7a7a" stroke-width="0.8" />
<line x1="288.8" y1="714.42" x2="292.6" y2="714.42" stroke="#7a7a7a" stroke-width="0.8" />
<line x1="288.8" y1="663.34" x2="292.6" y2="663.34" stroke="#7a7a7a" stroke-width="0.8" />
<line x1="288.8" y1="612.26" x2="292.6" y2="612.26" stroke="#7a7a7a" stroke-width="0.8" />
<line x1="288.8" y1="561.18" x2="292.6" y2="561.18" stroke="#7a7a7a" stroke-width="0.8" />
<text x="35.3" y="769.2" font-size="10.5" text-anchor="end" >4</text>
<text x="35.3" y="718.12" font-size="10.5" text-anchor="end" >4.2</text>
<text x="35.3" y="667.04" font-size="10.5" text-anchor="end" >4.4</text>
<text x="35.3" y="615.96" font-size="10.5" text-anchor="end" >4.6</text>
<text x="35.3" y="564.88" font-size="10.5" text-anchor="end" >4.8</text>
<text x="8.9" y="663.6" font-size="10.5" text-anchor="middle" transform="rotate(-90 8.9 663.6)" >log (lifespan in years)</text>
<line x1="56.4" y1="775.5" x2="56.4" y2="779.5" stroke="#7a7a7a" stroke-width="0.8" />
<text x="56.4" y="791.2" font-size="10.5" text-anchor="middle" >0</text>
<line x1="99.1" y1="775.5" x2="99.1" y2="779.5" stroke="#7a7a7a" stroke-width="0.8" />
<text x="99.1" y="791.2" font-size="10.5" text-anchor="middle" >2</text>
<line x1="141.8" y1="775.5" x2="141.8" y2="779.5" stroke="#7a7a7a" stroke-width="0.8" />
<text x="141.8" y="791.2" font-size="10.5" text-anchor="middle" >4</text>
<line x1="184.5" y1="775.5" x2="184.5" y2="779.5" stroke="#7a7a7a" stroke-width="0.8" />
<text x="184.5" y="791.2" font-size="10.5" text-anchor="middle" >6</text>
<line x1="227.2" y1="775.5" x2="227.2" y2="779.5" stroke="#7a7a7a" stroke-width="0.8" />
<text x="227.2" y="791.2" font-size="10.5" text-anchor="middle" >8</text>
<line x1="269.9" y1="775.5" x2="269.9" y2="779.5" stroke="#7a7a7a" stroke-width="0.8" />
<text x="269.9" y="791.2" font-size="10.5" text-anchor="middle" >10</text>
<line x1="303.3" y1="775.5" x2="303.3" y2="779.5" stroke="#7a7a7a" stroke-width="0.8" />
<text x="303.3" y="791.2" font-size="10.5" text-anchor="middle" >0</text>
<line x1="346.42" y1="775.5" x2="346.42" y2="779.5" stroke="#7a7a7a" stroke-width="0.8" />
<text x="346.42" y="791.2" font-size="10.5" text-anchor="middle" >2</text>
<line x1="389.54" y1="775.5" x2="389.54" y2="779.5" stroke="#7a7a7a" stroke-width="0.8" />
<text x="389.54" y="791.2" font-size="10.5" text-anchor="middle" >4</text>
<line x1="432.66" y1="775.5" x2="432.66" y2="779.5" stroke="#7a7a7a" stroke-width="0.8" />
<text x="432.66" y="791.2" font-size="10.5" text-anchor="middle" >6</text>
<line x1="475.78" y1="775.5" x2="475.78" y2="779.5" stroke="#7a7a7a" stroke-width="0.8" />
<text x="475.78" y="791.2" font-size="10.5" text-anchor="middle" >8</text>
<line x1="518.9" y1="775.5" x2="518.9" y2="779.5" stroke="#7a7a7a" stroke-width="0.8" />
<text x="518.9" y="791.2" font-size="10.5" text-anchor="middle" >10</text>
<text x="295.4" y="810.6" font-size="10.6" text-anchor="middle" >Alternative allele count of pathogenic rare variants</text>
<text x="162.4" y="545" font-size="10.5" text-anchor="middle" >APOE4 carriers (<tspan font-style="italic">n</tspan> = 94)</text>
<text x="411.6" y="532.5" font-size="10.5" text-anchor="middle" >APOE4 carriers with high genetic risk</text>
<text x="411.6" y="544.8" font-size="10.5" text-anchor="middle" >of CAD and T2D (<tspan font-style="italic">n</tspan> = 20)</text>
<line x1="530.6" y1="741.4" x2="534.4" y2="741.4" stroke="#7a7a7a" stroke-width="0.8" />
<text x="539" y="745.1" font-size="10.5" >60</text>
<line x1="530.6" y1="702.03" x2="534.4" y2="702.03" stroke="#7a7a7a" stroke-width="0.8" />
<text x="539" y="705.73" font-size="10.5" >70</text>
<line x1="530.6" y1="667.93" x2="534.4" y2="667.93" stroke="#7a7a7a" stroke-width="0.8" />
<text x="539" y="671.63" font-size="10.5" >80</text>
<line x1="530.6" y1="637.85" x2="534.4" y2="637.85" stroke="#7a7a7a" stroke-width="0.8" />
<text x="539" y="641.55" font-size="10.5" >90</text>
<line x1="530.6" y1="610.94" x2="534.4" y2="610.94" stroke="#7a7a7a" stroke-width="0.8" />
<text x="539" y="614.64" font-size="10.5" >100</text>
<line x1="530.6" y1="586.6" x2="534.4" y2="586.6" stroke="#7a7a7a" stroke-width="0.8" />
<text x="539" y="590.3" font-size="10.5" >110</text>
<line x1="530.6" y1="564.37" x2="534.4" y2="564.37" stroke="#7a7a7a" stroke-width="0.8" />
<text x="539" y="568.07" font-size="10.5" >120</text>
<text x="568.8" y="663" font-size="10.5" text-anchor="middle" transform="rotate(90 568.8 663)" >Lifespan (years)</text>
<path d="M56.4,613.95 L61.73,615.19 L67.06,616.41 L72.4,617.61 L77.73,618.79 L83.06,619.94 L88.39,621.06 L93.73,622.14 L99.06,623.18 L104.39,624.17 L109.72,625.1 L115.06,625.96 L120.39,626.74 L125.72,627.44 L131.06,628.06 L136.39,628.6 L141.72,629.07 L147.05,629.46 L152.38,629.78 L157.72,630.06 L163.05,630.28 L168.38,630.46 L173.71,630.61 L179.05,630.74 L184.38,630.83 L189.71,630.91 L195.04,630.97 L200.38,631.02 L205.71,631.05 L211.04,631.08 L216.37,631.09 L221.71,631.1 L227.04,631.1 L232.37,631.09 L237.71,631.08 L243.04,631.06 L248.37,631.04 L253.7,631.02 L259.03,630.99 L264.37,630.96 L269.7,630.93 L269.7,671.07 L264.37,669.75 L259.03,668.43 L253.7,667.11 L248.37,665.8 L243.04,664.49 L237.71,663.18 L232.37,661.88 L227.04,660.58 L221.71,659.29 L216.37,658.01 L211.04,656.73 L205.71,655.47 L200.38,654.21 L195.04,652.97 L189.71,651.74 L184.38,650.53 L179.05,649.33 L173.71,648.17 L168.38,647.03 L163.05,645.92 L157.72,644.85 L152.38,643.84 L147.05,642.87 L141.72,641.97 L136.39,641.15 L131.06,640.4 L125.72,639.73 L120.39,639.14 L115.06,638.63 L109.72,638.2 L104.39,637.84 L99.06,637.54 L93.73,637.29 L88.39,637.08 L83.06,636.91 L77.73,636.77 L72.4,636.66 L67.06,636.57 L61.73,636.5 L56.4,636.45 Z" fill="#d6d6d6"/>
<circle cx="55.7" cy="602.9" r="1.85" fill="rgba(0,0,255,0.32)"/>
<circle cx="57" cy="602" r="1.85" fill="rgba(255,0,0,0.32)"/>
<circle cx="57" cy="614" r="1.85" fill="rgba(255,0,0,0.32)"/>
<circle cx="57.2" cy="615.5" r="1.85" fill="rgba(255,0,0,0.32)"/>
<circle cx="57.6" cy="654.4" r="1.85" fill="rgba(0,0,255,0.32)"/>
<circle cx="55.2" cy="659" r="1.85" fill="rgba(0,0,255,0.32)"/>
<circle cx="76.4" cy="603.5" r="1.85" fill="rgba(255,0,0,0.32)"/>
<circle cx="76.9" cy="604.4" r="1.85" fill="rgba(255,0,0,0.32)"/>
<circle cx="80.1" cy="606.6" r="1.85" fill="rgba(255,0,0,0.32)"/>
<circle cx="76.8" cy="611.4" r="1.85" fill="rgba(255,0,0,0.32)"/>
<circle cx="77.3" cy="615.5" r="1.85" fill="rgba(0,0,255,0.32)"/>
<circle cx="76.4" cy="625.6" r="1.85" fill="rgba(0,0,255,0.32)"/>
<circle cx="80.1" cy="640.8" r="1.85" fill="rgba(0,0,255,0.32)"/>
<circle cx="78.2" cy="649.6" r="1.85" fill="rgba(0,0,255,0.32)"/>
<circle cx="76.8" cy="680.1" r="1.85" fill="rgba(255,0,0,0.32)"/>
<circle cx="77.9" cy="707.8" r="1.85" fill="rgba(255,0,0,0.32)"/>
<circle cx="101.3" cy="600.7" r="1.85" fill="rgba(255,0,0,0.32)"/>
<circle cx="98.5" cy="604.8" r="1.85" fill="rgba(255,0,0,0.32)"/>
<circle cx="100" cy="607.7" r="1.85" fill="rgba(255,0,0,0.32)"/>
<circle cx="98" cy="613.1" r="1.85" fill="rgba(255,0,0,0.32)"/>
<circle cx="100" cy="616.8" r="1.85" fill="rgba(0,0,255,0.32)"/>
<circle cx="98.5" cy="620.1" r="1.85" fill="rgba(0,0,255,0.32)"/>
<circle cx="101.3" cy="621.4" r="1.85" fill="rgba(255,0,0,0.32)"/>
<circle cx="97.6" cy="623.4" r="1.85" fill="rgba(255,0,0,0.32)"/>
<circle cx="98.5" cy="637.2" r="1.85" fill="rgba(0,0,255,0.32)"/>
<circle cx="100.4" cy="644.6" r="1.85" fill="rgba(0,0,255,0.32)"/>
<circle cx="100" cy="646.5" r="1.85" fill="rgba(255,0,0,0.32)"/>
<circle cx="98.5" cy="650.2" r="1.85" fill="rgba(255,0,0,0.32)"/>
<circle cx="101.3" cy="651.1" r="1.85" fill="rgba(255,0,0,0.32)"/>
<circle cx="101.3" cy="658.5" r="1.85" fill="rgba(255,0,0,0.32)"/>
<circle cx="100" cy="668.6" r="1.85" fill="rgba(0,0,255,0.32)"/>
<circle cx="100.4" cy="672.3" r="1.85" fill="rgba(0,0,255,0.32)"/>
<circle cx="98" cy="691.7" r="1.85" fill="rgba(0,0,255,0.32)"/>
<circle cx="121.1" cy="592.8" r="1.85" fill="rgba(255,0,0,0.32)"/>
<circle cx="121.6" cy="605.3" r="1.85" fill="rgba(255,0,0,0.32)"/>
<circle cx="122.2" cy="607.5" r="1.85" fill="rgba(255,0,0,0.32)"/>
<circle cx="119.8" cy="610.8" r="1.85" fill="rgba(255,0,0,0.32)"/>
<circle cx="120.7" cy="611.8" r="1.85" fill="rgba(0,0,255,0.32)"/>
<circle cx="119.8" cy="616" r="1.85" fill="rgba(255,0,0,0.32)"/>
<circle cx="120.7" cy="616.8" r="1.85" fill="rgba(255,0,0,0.32)"/>
<circle cx="122.5" cy="617" r="1.85" fill="rgba(255,0,0,0.32)"/>
<circle cx="122.5" cy="624.3" r="1.85" fill="rgba(255,0,0,0.32)"/>
<circle cx="118.5" cy="638.9" r="1.85" fill="rgba(255,0,0,0.32)"/>
<circle cx="118.8" cy="649.6" r="1.85" fill="rgba(0,0,255,0.32)"/>
<circle cx="122.5" cy="654.8" r="1.85" fill="rgba(0,0,255,0.32)"/>
<circle cx="122.2" cy="685.8" r="1.85" fill="rgba(0,0,255,0.32)"/>
<circle cx="121.6" cy="691.5" r="1.85" fill="rgba(0,0,255,0.32)"/>
<circle cx="120.7" cy="725.3" r="1.85" fill="rgba(255,0,0,0.32)"/>
<circle cx="140.4" cy="596.4" r="1.85" fill="rgba(0,0,255,0.32)"/>
<circle cx="141.4" cy="601.2" r="1.85" fill="rgba(255,0,0,0.32)"/>
<circle cx="143.8" cy="610.3" r="1.85" fill="rgba(255,0,0,0.32)"/>
<circle cx="142.5" cy="614.5" r="1.85" fill="rgba(0,0,255,0.32)"/>
<circle cx="141.9" cy="615.5" r="1.85" fill="rgba(255,0,0,0.32)"/>
<circle cx="143.8" cy="619.2" r="1.85" fill="rgba(255,0,0,0.32)"/>
<circle cx="140.6" cy="620.4" r="1.85" fill="rgba(255,0,0,0.32)"/>
<circle cx="142.5" cy="620.6" r="1.85" fill="rgba(255,0,0,0.32)"/>
<circle cx="140.6" cy="628" r="1.85" fill="rgba(255,0,0,0.32)"/>
<circle cx="143.8" cy="633" r="1.85" fill="rgba(255,0,0,0.32)"/>
<circle cx="141" cy="651.8" r="1.85" fill="rgba(0,0,255,0.32)"/>
<circle cx="142.3" cy="662.9" r="1.85" fill="rgba(0,0,255,0.32)"/>
<circle cx="140.3" cy="690.2" r="1.85" fill="rgba(255,0,0,0.32)"/>
<circle cx="161.5" cy="600.7" r="1.85" fill="rgba(255,0,0,0.32)"/>
<circle cx="162.4" cy="601.6" r="1.85" fill="rgba(0,0,255,0.32)"/>
<circle cx="164.2" cy="599.4" r="1.85" fill="rgba(255,0,0,0.32)"/>
<circle cx="165.1" cy="605.3" r="1.85" fill="rgba(255,0,0,0.32)"/>
<circle cx="162" cy="610.8" r="1.85" fill="rgba(255,0,0,0.32)"/>
<circle cx="162" cy="614.5" r="1.85" fill="rgba(255,0,0,0.32)"/>
<circle cx="161.5" cy="619.1" r="1.85" fill="rgba(255,0,0,0.32)"/>
<circle cx="165.1" cy="620" r="1.85" fill="rgba(255,0,0,0.32)"/>
<circle cx="165.1" cy="620.3" r="1.85" fill="rgba(255,0,0,0.32)"/>
<circle cx="162" cy="639" r="1.85" fill="rgba(255,0,0,0.32)"/>
<circle cx="165.1" cy="650.8" r="1.85" fill="rgba(0,0,255,0.32)"/>
<circle cx="162.7" cy="659.1" r="1.85" fill="rgba(0,0,255,0.32)"/>
<circle cx="165.1" cy="660.6" r="1.85" fill="rgba(0,0,255,0.32)"/>
<circle cx="184.9" cy="596.1" r="1.85" fill="rgba(255,0,0,0.32)"/>
<circle cx="183.6" cy="614.1" r="1.85" fill="rgba(0,0,255,0.32)"/>
<circle cx="184.1" cy="620.4" r="1.85" fill="rgba(255,0,0,0.32)"/>
<circle cx="182.7" cy="647.3" r="1.85" fill="rgba(0,0,255,0.32)"/>
<circle cx="184.1" cy="665.8" r="1.85" fill="rgba(0,0,255,0.32)"/>
<circle cx="185.4" cy="708" r="1.85" fill="rgba(0,0,255,0.32)"/>
<circle cx="207" cy="620" r="1.85" fill="rgba(255,0,0,0.32)"/>
<circle cx="207.2" cy="655.6" r="1.85" fill="rgba(255,0,0,0.32)"/>
<circle cx="207.2" cy="662.4" r="1.85" fill="rgba(255,0,0,0.32)"/>
<circle cx="206.6" cy="667.2" r="1.85" fill="rgba(255,0,0,0.32)"/>
<circle cx="207.9" cy="683.3" r="1.85" fill="rgba(255,0,0,0.32)"/>
<circle cx="207.2" cy="732.1" r="1.85" fill="rgba(255,0,0,0.32)"/>
<circle cx="227.8" cy="615" r="1.85" fill="rgba(255,0,0,0.32)"/>
<circle cx="247.7" cy="654.1" r="1.85" fill="rgba(0,0,255,0.32)"/>
<circle cx="267.8" cy="664.6" r="1.85" fill="rgba(0,0,255,0.32)"/>
<line x1="56.4" y1="625.2" x2="269.7" y2="651" stroke="#000" stroke-width="1.8" />
<text x="63" y="765.5" font-size="10.5" ><tspan font-style="italic">r</tspan> = –0.184, <tspan font-style="italic">P</tspan> = 0.064</text>
<path d="M303.6,589.5 L308.99,591.88 L314.38,594.23 L319.76,596.57 L325.15,598.87 L330.54,601.15 L335.93,603.39 L341.31,605.59 L346.7,607.75 L352.09,609.85 L357.48,611.9 L362.86,613.87 L368.25,615.78 L373.64,617.6 L379.03,619.33 L384.41,620.98 L389.8,622.53 L395.19,623.99 L400.58,625.36 L405.96,626.64 L411.35,627.84 L416.74,628.97 L422.12,630.04 L427.51,631.04 L432.9,632 L438.29,632.91 L443.68,633.78 L449.06,634.62 L454.45,635.43 L459.84,636.21 L465.23,636.97 L470.61,637.72 L476,638.44 L481.39,639.15 L486.78,639.84 L492.16,640.53 L497.55,641.2 L502.94,641.87 L508.33,642.52 L513.71,643.17 L519.1,643.81 L519.1,697.81 L513.71,695.33 L508.33,692.85 L502.94,690.39 L497.55,687.93 L492.16,685.49 L486.78,683.05 L481.39,680.63 L476,678.21 L470.61,675.82 L465.23,673.44 L459.84,671.08 L454.45,668.74 L449.06,666.43 L443.68,664.15 L438.29,661.9 L432.9,659.69 L427.51,657.53 L422.12,655.41 L416.74,653.36 L411.35,651.37 L405.96,649.45 L400.58,647.61 L395.19,645.86 L389.8,644.2 L384.41,642.63 L379.03,641.15 L373.64,639.77 L368.25,638.47 L362.86,637.25 L357.48,636.11 L352.09,635.03 L346.7,634.02 L341.31,633.05 L335.93,632.13 L330.54,631.25 L325.15,630.41 L319.76,629.59 L314.38,628.81 L308.99,628.04 L303.6,627.3 Z" fill="#d6d6d6"/>
<circle cx="305.7" cy="613.5" r="1.85" fill="rgba(255,0,0,0.32)"/>
<circle cx="323.7" cy="603.9" r="1.85" fill="rgba(255,0,0,0.32)"/>
<circle cx="324.1" cy="606.6" r="1.85" fill="rgba(255,0,0,0.32)"/>
<circle cx="326.1" cy="614.8" r="1.85" fill="rgba(255,0,0,0.32)"/>
<circle cx="324.7" cy="625.4" r="1.85" fill="rgba(0,0,255,0.32)"/>
<circle cx="346.1" cy="616.2" r="1.85" fill="rgba(255,0,0,0.32)"/>
<circle cx="366.2" cy="592.7" r="1.85" fill="rgba(255,0,0,0.32)"/>
<circle cx="369" cy="607.6" r="1.85" fill="rgba(255,0,0,0.32)"/>
<circle cx="366.2" cy="610.7" r="1.85" fill="rgba(255,0,0,0.32)"/>
<circle cx="366.6" cy="649.5" r="1.85" fill="rgba(0,0,255,0.32)"/>
<circle cx="367.6" cy="685.7" r="1.85" fill="rgba(0,0,255,0.32)"/>
<circle cx="390.1" cy="620.7" r="1.85" fill="rgba(255,0,0,0.32)"/>
<circle cx="413.2" cy="619.9" r="1.85" fill="rgba(255,0,0,0.32)"/>
<circle cx="409.5" cy="639.3" r="1.85" fill="rgba(255,0,0,0.32)"/>
<circle cx="409.2" cy="659.1" r="1.85" fill="rgba(0,0,255,0.32)"/>
<circle cx="452.5" cy="619.9" r="1.85" fill="rgba(255,0,0,0.32)"/>
<circle cx="454.2" cy="655.6" r="1.85" fill="rgba(255,0,0,0.32)"/>
<circle cx="452.7" cy="662.6" r="1.85" fill="rgba(255,0,0,0.32)"/>
<circle cx="452.7" cy="683.6" r="1.85" fill="rgba(255,0,0,0.32)"/>
<circle cx="517.1" cy="664.8" r="1.85" fill="rgba(0,0,255,0.32)"/>
<line x1="303.6" y1="608.4" x2="519.1" y2="670.81" stroke="#000" stroke-width="1.8" />
<text x="311.6" y="739.6" font-size="10.5" ><tspan font-style="italic">r</tspan> = –0.605</text>
<text x="311.6" y="751.9" font-size="10.5" ><tspan font-style="italic">P</tspan> = 2.85 × 10<tspan dy="-4.6" font-size="7.5">−3</tspan></text>
<text x="311.6" y="764.6" font-size="10.5" >FDR = 7.13 × 10<tspan dy="-4.6" font-size="7.5">−3</tspan></text>
<text x="482.8" y="574.3" font-size="10.5" fill="#0000ff" >Males</text>
<text x="482.8" y="587.6" font-size="10.5" fill="#ff0000" >Females</text>
<rect x="44.4" y="551.4" width="236.4" height="224.1" fill="none" stroke="#8c8c8c" stroke-width="1"/>
<rect x="292.6" y="551.4" width="238" height="224.1" fill="none" stroke="#8c8c8c" stroke-width="1"/></svg></body></html>
